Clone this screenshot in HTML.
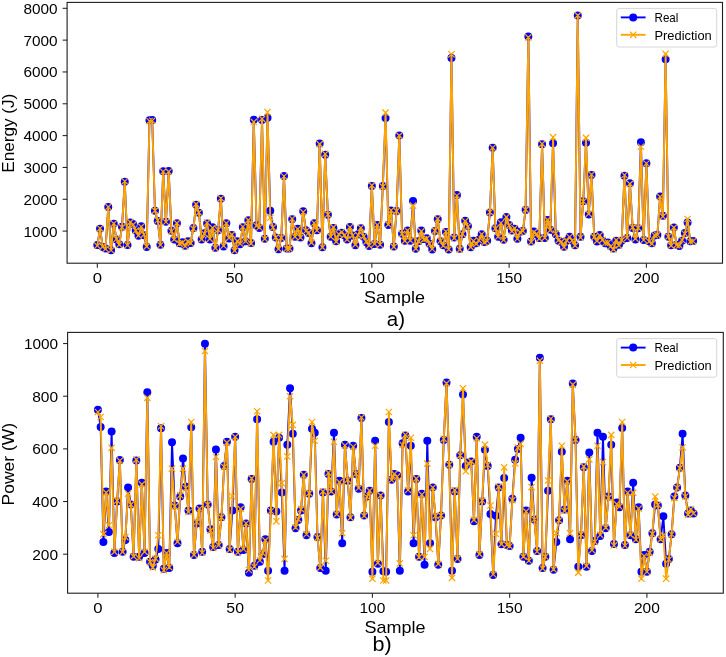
<!DOCTYPE html><html><head><meta charset="utf-8"><style>html,body{margin:0;padding:0;background:#fff;}svg{display:block;filter:blur(0.35px);}</style></head><body>
<svg width="726" height="657" viewBox="0 0 726 657" font-family='"Liberation Sans", sans-serif' fill="#000">
<defs><clipPath id="clip2"><rect x="67.1" y="2.4" width="655.4" height="260.8"/></clipPath><clipPath id="clip332"><rect x="67.6" y="332.4" width="655.7" height="260.8"/></clipPath></defs>
<rect width="726" height="657" fill="#fff"/>
<g clip-path="url(#clip2)">
<polyline points="97.3,245.1 100.05,228.87 102.79,247.01 105.54,248.61 108.28,206.91 111.03,250.2 113.77,223.78 116.52,239.38 119.26,244.15 122.01,226.64 124.75,181.77 127.5,245.1 130.25,222.51 132.99,224.1 135.74,230.46 138.48,235.87 141.23,226.33 143.97,235.24 146.72,247.01 149.46,120.34 152.21,120.02 154.96,210.73 157.7,220.91 160.45,244.79 163.19,171.26 165.94,221.87 168.68,170.94 171.43,230.78 174.17,239.38 176.92,223.14 179.66,243.2 182.41,242.24 185.16,245.74 187.9,241.29 190.65,242.88 193.39,227.92 196.14,204.68 198.88,212.64 201.63,239.38 204.37,233.33 207.12,223.46 209.87,239.38 212.61,227.28 215.36,247.81 218.1,230.15 220.85,198.63 223.59,246.38 226.34,223.14 229.08,238.42 231.83,234.92 234.57,250.36 237.32,241.29 240.07,244.31 242.81,227.28 245.56,241.29 248.3,220.28 251.05,242.88 253.79,119.7 256.54,225.37 259.28,227.92 262.03,120.02 264.78,238.74 267.52,117.79 270.27,210.73 273.01,226.96 275.76,237.47 278.5,249.24 281.25,238.1 283.99,176.04 286.74,248.61 289.49,248.61 292.23,219.16 294.98,236.83 297.72,228.87 300.47,237.47 303.21,211.37 305.96,230.3 308.7,233.01 311.45,243.35 314.19,223.14 316.94,230.3 319.69,143.57 322.43,247.33 325.18,154.71 327.92,214.87 330.67,236.83 333.41,227.92 336.16,241.29 338.9,234.28 341.65,232.69 344.39,235.24 347.14,239.38 349.89,226.96 352.63,235.56 355.38,245.33 358.12,234.28 360.87,228.24 363.61,236.83 366.36,242.24 369.1,245.96 371.85,185.9 374.6,243.99 377.34,225.05 380.09,244.63 382.83,185.9 385.58,118.11 388.32,225.05 391.07,210.41 393.81,246.38 396.56,211.05 399.31,135.61 402.05,233.65 404.8,240.65 407.54,230.59 410.29,240.65 413.03,201.05 415.78,248.8 418.52,241.29 421.27,230.59 424.01,238.93 426.76,238.17 429.51,243.83 432.25,249.56 435,231.1 437.74,219.26 440.49,241.29 443.23,245.33 445.98,232.12 448.72,249.56 451.47,57.95 454.21,237.47 456.96,195.01 459.71,248.8 462.45,234.28 465.2,220.76 467.94,226.07 470.69,247.33 473.43,240.65 476.18,243.2 478.92,239.69 481.67,234.28 484.42,241.92 487.16,240.65 489.91,212.42 492.65,147.71 495.4,228.33 498.14,236.67 500.89,222.28 503.63,239.69 506.38,216.97 509.12,225.05 511.87,230.59 514.62,228.87 517.36,238.74 520.11,231.74 522.85,231.1 525.6,210.09 528.34,36.62 531.09,241.41 533.83,231.58 536.58,234.28 539.33,238.1 542.07,144.21 544.82,238.1 547.56,219.96 550.31,229.67 553.05,143.25 555.8,234.28 558.54,240.65 561.29,241.92 564.03,246.7 566.78,240.65 569.53,236.83 572.27,240.65 575.02,245.33 577.76,15.62 580.51,236.83 583.25,201.18 586,142.77 588.74,214.55 591.49,175.08 594.24,236.83 596.98,241.44 599.73,234.92 602.47,240.65 605.22,243.35 607.96,242.56 610.71,246.06 613.45,248.61 616.2,240.65 618.94,244.79 621.69,240.65 624.44,175.72 627.18,238.1 629.93,183.36 632.67,227.92 635.42,239.38 638.16,228.24 640.91,142.3 643.65,240.01 646.4,163.3 649.15,241.29 651.89,243.35 654.64,235.56 657.38,234.92 660.13,196.41 662.87,215.82 665.62,59.22 668.36,236.83 671.11,245.33 673.85,227.6 676.6,244.79 679.35,245.96 682.09,240.65 684.84,233.01 687.58,222.51 690.33,241.29 693.07,240.97" fill="none" stroke="#0000ff" stroke-width="1.9" stroke-linejoin="round"/>
<path d="M93.3,245.1a4.0,4.0 0 1,0 8.0,0a4.0,4.0 0 1,0 -8.0,0M96.05,228.87a4.0,4.0 0 1,0 8.0,0a4.0,4.0 0 1,0 -8.0,0M98.79,247.01a4.0,4.0 0 1,0 8.0,0a4.0,4.0 0 1,0 -8.0,0M101.54,248.61a4.0,4.0 0 1,0 8.0,0a4.0,4.0 0 1,0 -8.0,0M104.28,206.91a4.0,4.0 0 1,0 8.0,0a4.0,4.0 0 1,0 -8.0,0M107.03,250.2a4.0,4.0 0 1,0 8.0,0a4.0,4.0 0 1,0 -8.0,0M109.77,223.78a4.0,4.0 0 1,0 8.0,0a4.0,4.0 0 1,0 -8.0,0M112.52,239.38a4.0,4.0 0 1,0 8.0,0a4.0,4.0 0 1,0 -8.0,0M115.26,244.15a4.0,4.0 0 1,0 8.0,0a4.0,4.0 0 1,0 -8.0,0M118.01,226.64a4.0,4.0 0 1,0 8.0,0a4.0,4.0 0 1,0 -8.0,0M120.75,181.77a4.0,4.0 0 1,0 8.0,0a4.0,4.0 0 1,0 -8.0,0M123.5,245.1a4.0,4.0 0 1,0 8.0,0a4.0,4.0 0 1,0 -8.0,0M126.25,222.51a4.0,4.0 0 1,0 8.0,0a4.0,4.0 0 1,0 -8.0,0M128.99,224.1a4.0,4.0 0 1,0 8.0,0a4.0,4.0 0 1,0 -8.0,0M131.74,230.46a4.0,4.0 0 1,0 8.0,0a4.0,4.0 0 1,0 -8.0,0M134.48,235.87a4.0,4.0 0 1,0 8.0,0a4.0,4.0 0 1,0 -8.0,0M137.23,226.33a4.0,4.0 0 1,0 8.0,0a4.0,4.0 0 1,0 -8.0,0M139.97,235.24a4.0,4.0 0 1,0 8.0,0a4.0,4.0 0 1,0 -8.0,0M142.72,247.01a4.0,4.0 0 1,0 8.0,0a4.0,4.0 0 1,0 -8.0,0M145.46,120.34a4.0,4.0 0 1,0 8.0,0a4.0,4.0 0 1,0 -8.0,0M148.21,120.02a4.0,4.0 0 1,0 8.0,0a4.0,4.0 0 1,0 -8.0,0M150.96,210.73a4.0,4.0 0 1,0 8.0,0a4.0,4.0 0 1,0 -8.0,0M153.7,220.91a4.0,4.0 0 1,0 8.0,0a4.0,4.0 0 1,0 -8.0,0M156.45,244.79a4.0,4.0 0 1,0 8.0,0a4.0,4.0 0 1,0 -8.0,0M159.19,171.26a4.0,4.0 0 1,0 8.0,0a4.0,4.0 0 1,0 -8.0,0M161.94,221.87a4.0,4.0 0 1,0 8.0,0a4.0,4.0 0 1,0 -8.0,0M164.68,170.94a4.0,4.0 0 1,0 8.0,0a4.0,4.0 0 1,0 -8.0,0M167.43,230.78a4.0,4.0 0 1,0 8.0,0a4.0,4.0 0 1,0 -8.0,0M170.17,239.38a4.0,4.0 0 1,0 8.0,0a4.0,4.0 0 1,0 -8.0,0M172.92,223.14a4.0,4.0 0 1,0 8.0,0a4.0,4.0 0 1,0 -8.0,0M175.66,243.2a4.0,4.0 0 1,0 8.0,0a4.0,4.0 0 1,0 -8.0,0M178.41,242.24a4.0,4.0 0 1,0 8.0,0a4.0,4.0 0 1,0 -8.0,0M181.16,245.74a4.0,4.0 0 1,0 8.0,0a4.0,4.0 0 1,0 -8.0,0M183.9,241.29a4.0,4.0 0 1,0 8.0,0a4.0,4.0 0 1,0 -8.0,0M186.65,242.88a4.0,4.0 0 1,0 8.0,0a4.0,4.0 0 1,0 -8.0,0M189.39,227.92a4.0,4.0 0 1,0 8.0,0a4.0,4.0 0 1,0 -8.0,0M192.14,204.68a4.0,4.0 0 1,0 8.0,0a4.0,4.0 0 1,0 -8.0,0M194.88,212.64a4.0,4.0 0 1,0 8.0,0a4.0,4.0 0 1,0 -8.0,0M197.63,239.38a4.0,4.0 0 1,0 8.0,0a4.0,4.0 0 1,0 -8.0,0M200.37,233.33a4.0,4.0 0 1,0 8.0,0a4.0,4.0 0 1,0 -8.0,0M203.12,223.46a4.0,4.0 0 1,0 8.0,0a4.0,4.0 0 1,0 -8.0,0M205.87,239.38a4.0,4.0 0 1,0 8.0,0a4.0,4.0 0 1,0 -8.0,0M208.61,227.28a4.0,4.0 0 1,0 8.0,0a4.0,4.0 0 1,0 -8.0,0M211.36,247.81a4.0,4.0 0 1,0 8.0,0a4.0,4.0 0 1,0 -8.0,0M214.1,230.15a4.0,4.0 0 1,0 8.0,0a4.0,4.0 0 1,0 -8.0,0M216.85,198.63a4.0,4.0 0 1,0 8.0,0a4.0,4.0 0 1,0 -8.0,0M219.59,246.38a4.0,4.0 0 1,0 8.0,0a4.0,4.0 0 1,0 -8.0,0M222.34,223.14a4.0,4.0 0 1,0 8.0,0a4.0,4.0 0 1,0 -8.0,0M225.08,238.42a4.0,4.0 0 1,0 8.0,0a4.0,4.0 0 1,0 -8.0,0M227.83,234.92a4.0,4.0 0 1,0 8.0,0a4.0,4.0 0 1,0 -8.0,0M230.57,250.36a4.0,4.0 0 1,0 8.0,0a4.0,4.0 0 1,0 -8.0,0M233.32,241.29a4.0,4.0 0 1,0 8.0,0a4.0,4.0 0 1,0 -8.0,0M236.07,244.31a4.0,4.0 0 1,0 8.0,0a4.0,4.0 0 1,0 -8.0,0M238.81,227.28a4.0,4.0 0 1,0 8.0,0a4.0,4.0 0 1,0 -8.0,0M241.56,241.29a4.0,4.0 0 1,0 8.0,0a4.0,4.0 0 1,0 -8.0,0M244.3,220.28a4.0,4.0 0 1,0 8.0,0a4.0,4.0 0 1,0 -8.0,0M247.05,242.88a4.0,4.0 0 1,0 8.0,0a4.0,4.0 0 1,0 -8.0,0M249.79,119.7a4.0,4.0 0 1,0 8.0,0a4.0,4.0 0 1,0 -8.0,0M252.54,225.37a4.0,4.0 0 1,0 8.0,0a4.0,4.0 0 1,0 -8.0,0M255.28,227.92a4.0,4.0 0 1,0 8.0,0a4.0,4.0 0 1,0 -8.0,0M258.03,120.02a4.0,4.0 0 1,0 8.0,0a4.0,4.0 0 1,0 -8.0,0M260.78,238.74a4.0,4.0 0 1,0 8.0,0a4.0,4.0 0 1,0 -8.0,0M263.52,117.79a4.0,4.0 0 1,0 8.0,0a4.0,4.0 0 1,0 -8.0,0M266.27,210.73a4.0,4.0 0 1,0 8.0,0a4.0,4.0 0 1,0 -8.0,0M269.01,226.96a4.0,4.0 0 1,0 8.0,0a4.0,4.0 0 1,0 -8.0,0M271.76,237.47a4.0,4.0 0 1,0 8.0,0a4.0,4.0 0 1,0 -8.0,0M274.5,249.24a4.0,4.0 0 1,0 8.0,0a4.0,4.0 0 1,0 -8.0,0M277.25,238.1a4.0,4.0 0 1,0 8.0,0a4.0,4.0 0 1,0 -8.0,0M279.99,176.04a4.0,4.0 0 1,0 8.0,0a4.0,4.0 0 1,0 -8.0,0M282.74,248.61a4.0,4.0 0 1,0 8.0,0a4.0,4.0 0 1,0 -8.0,0M285.49,248.61a4.0,4.0 0 1,0 8.0,0a4.0,4.0 0 1,0 -8.0,0M288.23,219.16a4.0,4.0 0 1,0 8.0,0a4.0,4.0 0 1,0 -8.0,0M290.98,236.83a4.0,4.0 0 1,0 8.0,0a4.0,4.0 0 1,0 -8.0,0M293.72,228.87a4.0,4.0 0 1,0 8.0,0a4.0,4.0 0 1,0 -8.0,0M296.47,237.47a4.0,4.0 0 1,0 8.0,0a4.0,4.0 0 1,0 -8.0,0M299.21,211.37a4.0,4.0 0 1,0 8.0,0a4.0,4.0 0 1,0 -8.0,0M301.96,230.3a4.0,4.0 0 1,0 8.0,0a4.0,4.0 0 1,0 -8.0,0M304.7,233.01a4.0,4.0 0 1,0 8.0,0a4.0,4.0 0 1,0 -8.0,0M307.45,243.35a4.0,4.0 0 1,0 8.0,0a4.0,4.0 0 1,0 -8.0,0M310.19,223.14a4.0,4.0 0 1,0 8.0,0a4.0,4.0 0 1,0 -8.0,0M312.94,230.3a4.0,4.0 0 1,0 8.0,0a4.0,4.0 0 1,0 -8.0,0M315.69,143.57a4.0,4.0 0 1,0 8.0,0a4.0,4.0 0 1,0 -8.0,0M318.43,247.33a4.0,4.0 0 1,0 8.0,0a4.0,4.0 0 1,0 -8.0,0M321.18,154.71a4.0,4.0 0 1,0 8.0,0a4.0,4.0 0 1,0 -8.0,0M323.92,214.87a4.0,4.0 0 1,0 8.0,0a4.0,4.0 0 1,0 -8.0,0M326.67,236.83a4.0,4.0 0 1,0 8.0,0a4.0,4.0 0 1,0 -8.0,0M329.41,227.92a4.0,4.0 0 1,0 8.0,0a4.0,4.0 0 1,0 -8.0,0M332.16,241.29a4.0,4.0 0 1,0 8.0,0a4.0,4.0 0 1,0 -8.0,0M334.9,234.28a4.0,4.0 0 1,0 8.0,0a4.0,4.0 0 1,0 -8.0,0M337.65,232.69a4.0,4.0 0 1,0 8.0,0a4.0,4.0 0 1,0 -8.0,0M340.39,235.24a4.0,4.0 0 1,0 8.0,0a4.0,4.0 0 1,0 -8.0,0M343.14,239.38a4.0,4.0 0 1,0 8.0,0a4.0,4.0 0 1,0 -8.0,0M345.89,226.96a4.0,4.0 0 1,0 8.0,0a4.0,4.0 0 1,0 -8.0,0M348.63,235.56a4.0,4.0 0 1,0 8.0,0a4.0,4.0 0 1,0 -8.0,0M351.38,245.33a4.0,4.0 0 1,0 8.0,0a4.0,4.0 0 1,0 -8.0,0M354.12,234.28a4.0,4.0 0 1,0 8.0,0a4.0,4.0 0 1,0 -8.0,0M356.87,228.24a4.0,4.0 0 1,0 8.0,0a4.0,4.0 0 1,0 -8.0,0M359.61,236.83a4.0,4.0 0 1,0 8.0,0a4.0,4.0 0 1,0 -8.0,0M362.36,242.24a4.0,4.0 0 1,0 8.0,0a4.0,4.0 0 1,0 -8.0,0M365.1,245.96a4.0,4.0 0 1,0 8.0,0a4.0,4.0 0 1,0 -8.0,0M367.85,185.9a4.0,4.0 0 1,0 8.0,0a4.0,4.0 0 1,0 -8.0,0M370.6,243.99a4.0,4.0 0 1,0 8.0,0a4.0,4.0 0 1,0 -8.0,0M373.34,225.05a4.0,4.0 0 1,0 8.0,0a4.0,4.0 0 1,0 -8.0,0M376.09,244.63a4.0,4.0 0 1,0 8.0,0a4.0,4.0 0 1,0 -8.0,0M378.83,185.9a4.0,4.0 0 1,0 8.0,0a4.0,4.0 0 1,0 -8.0,0M381.58,118.11a4.0,4.0 0 1,0 8.0,0a4.0,4.0 0 1,0 -8.0,0M384.32,225.05a4.0,4.0 0 1,0 8.0,0a4.0,4.0 0 1,0 -8.0,0M387.07,210.41a4.0,4.0 0 1,0 8.0,0a4.0,4.0 0 1,0 -8.0,0M389.81,246.38a4.0,4.0 0 1,0 8.0,0a4.0,4.0 0 1,0 -8.0,0M392.56,211.05a4.0,4.0 0 1,0 8.0,0a4.0,4.0 0 1,0 -8.0,0M395.31,135.61a4.0,4.0 0 1,0 8.0,0a4.0,4.0 0 1,0 -8.0,0M398.05,233.65a4.0,4.0 0 1,0 8.0,0a4.0,4.0 0 1,0 -8.0,0M400.8,240.65a4.0,4.0 0 1,0 8.0,0a4.0,4.0 0 1,0 -8.0,0M403.54,230.59a4.0,4.0 0 1,0 8.0,0a4.0,4.0 0 1,0 -8.0,0M406.29,240.65a4.0,4.0 0 1,0 8.0,0a4.0,4.0 0 1,0 -8.0,0M409.03,201.05a4.0,4.0 0 1,0 8.0,0a4.0,4.0 0 1,0 -8.0,0M411.78,248.8a4.0,4.0 0 1,0 8.0,0a4.0,4.0 0 1,0 -8.0,0M414.52,241.29a4.0,4.0 0 1,0 8.0,0a4.0,4.0 0 1,0 -8.0,0M417.27,230.59a4.0,4.0 0 1,0 8.0,0a4.0,4.0 0 1,0 -8.0,0M420.01,238.93a4.0,4.0 0 1,0 8.0,0a4.0,4.0 0 1,0 -8.0,0M422.76,238.17a4.0,4.0 0 1,0 8.0,0a4.0,4.0 0 1,0 -8.0,0M425.51,243.83a4.0,4.0 0 1,0 8.0,0a4.0,4.0 0 1,0 -8.0,0M428.25,249.56a4.0,4.0 0 1,0 8.0,0a4.0,4.0 0 1,0 -8.0,0M431,231.1a4.0,4.0 0 1,0 8.0,0a4.0,4.0 0 1,0 -8.0,0M433.74,219.26a4.0,4.0 0 1,0 8.0,0a4.0,4.0 0 1,0 -8.0,0M436.49,241.29a4.0,4.0 0 1,0 8.0,0a4.0,4.0 0 1,0 -8.0,0M439.23,245.33a4.0,4.0 0 1,0 8.0,0a4.0,4.0 0 1,0 -8.0,0M441.98,232.12a4.0,4.0 0 1,0 8.0,0a4.0,4.0 0 1,0 -8.0,0M444.72,249.56a4.0,4.0 0 1,0 8.0,0a4.0,4.0 0 1,0 -8.0,0M447.47,57.95a4.0,4.0 0 1,0 8.0,0a4.0,4.0 0 1,0 -8.0,0M450.21,237.47a4.0,4.0 0 1,0 8.0,0a4.0,4.0 0 1,0 -8.0,0M452.96,195.01a4.0,4.0 0 1,0 8.0,0a4.0,4.0 0 1,0 -8.0,0M455.71,248.8a4.0,4.0 0 1,0 8.0,0a4.0,4.0 0 1,0 -8.0,0M458.45,234.28a4.0,4.0 0 1,0 8.0,0a4.0,4.0 0 1,0 -8.0,0M461.2,220.76a4.0,4.0 0 1,0 8.0,0a4.0,4.0 0 1,0 -8.0,0M463.94,226.07a4.0,4.0 0 1,0 8.0,0a4.0,4.0 0 1,0 -8.0,0M466.69,247.33a4.0,4.0 0 1,0 8.0,0a4.0,4.0 0 1,0 -8.0,0M469.43,240.65a4.0,4.0 0 1,0 8.0,0a4.0,4.0 0 1,0 -8.0,0M472.18,243.2a4.0,4.0 0 1,0 8.0,0a4.0,4.0 0 1,0 -8.0,0M474.92,239.69a4.0,4.0 0 1,0 8.0,0a4.0,4.0 0 1,0 -8.0,0M477.67,234.28a4.0,4.0 0 1,0 8.0,0a4.0,4.0 0 1,0 -8.0,0M480.42,241.92a4.0,4.0 0 1,0 8.0,0a4.0,4.0 0 1,0 -8.0,0M483.16,240.65a4.0,4.0 0 1,0 8.0,0a4.0,4.0 0 1,0 -8.0,0M485.91,212.42a4.0,4.0 0 1,0 8.0,0a4.0,4.0 0 1,0 -8.0,0M488.65,147.71a4.0,4.0 0 1,0 8.0,0a4.0,4.0 0 1,0 -8.0,0M491.4,228.33a4.0,4.0 0 1,0 8.0,0a4.0,4.0 0 1,0 -8.0,0M494.14,236.67a4.0,4.0 0 1,0 8.0,0a4.0,4.0 0 1,0 -8.0,0M496.89,222.28a4.0,4.0 0 1,0 8.0,0a4.0,4.0 0 1,0 -8.0,0M499.63,239.69a4.0,4.0 0 1,0 8.0,0a4.0,4.0 0 1,0 -8.0,0M502.38,216.97a4.0,4.0 0 1,0 8.0,0a4.0,4.0 0 1,0 -8.0,0M505.12,225.05a4.0,4.0 0 1,0 8.0,0a4.0,4.0 0 1,0 -8.0,0M507.87,230.59a4.0,4.0 0 1,0 8.0,0a4.0,4.0 0 1,0 -8.0,0M510.62,228.87a4.0,4.0 0 1,0 8.0,0a4.0,4.0 0 1,0 -8.0,0M513.36,238.74a4.0,4.0 0 1,0 8.0,0a4.0,4.0 0 1,0 -8.0,0M516.11,231.74a4.0,4.0 0 1,0 8.0,0a4.0,4.0 0 1,0 -8.0,0M518.85,231.1a4.0,4.0 0 1,0 8.0,0a4.0,4.0 0 1,0 -8.0,0M521.6,210.09a4.0,4.0 0 1,0 8.0,0a4.0,4.0 0 1,0 -8.0,0M524.34,36.62a4.0,4.0 0 1,0 8.0,0a4.0,4.0 0 1,0 -8.0,0M527.09,241.41a4.0,4.0 0 1,0 8.0,0a4.0,4.0 0 1,0 -8.0,0M529.83,231.58a4.0,4.0 0 1,0 8.0,0a4.0,4.0 0 1,0 -8.0,0M532.58,234.28a4.0,4.0 0 1,0 8.0,0a4.0,4.0 0 1,0 -8.0,0M535.33,238.1a4.0,4.0 0 1,0 8.0,0a4.0,4.0 0 1,0 -8.0,0M538.07,144.21a4.0,4.0 0 1,0 8.0,0a4.0,4.0 0 1,0 -8.0,0M540.82,238.1a4.0,4.0 0 1,0 8.0,0a4.0,4.0 0 1,0 -8.0,0M543.56,219.96a4.0,4.0 0 1,0 8.0,0a4.0,4.0 0 1,0 -8.0,0M546.31,229.67a4.0,4.0 0 1,0 8.0,0a4.0,4.0 0 1,0 -8.0,0M549.05,143.25a4.0,4.0 0 1,0 8.0,0a4.0,4.0 0 1,0 -8.0,0M551.8,234.28a4.0,4.0 0 1,0 8.0,0a4.0,4.0 0 1,0 -8.0,0M554.54,240.65a4.0,4.0 0 1,0 8.0,0a4.0,4.0 0 1,0 -8.0,0M557.29,241.92a4.0,4.0 0 1,0 8.0,0a4.0,4.0 0 1,0 -8.0,0M560.03,246.7a4.0,4.0 0 1,0 8.0,0a4.0,4.0 0 1,0 -8.0,0M562.78,240.65a4.0,4.0 0 1,0 8.0,0a4.0,4.0 0 1,0 -8.0,0M565.53,236.83a4.0,4.0 0 1,0 8.0,0a4.0,4.0 0 1,0 -8.0,0M568.27,240.65a4.0,4.0 0 1,0 8.0,0a4.0,4.0 0 1,0 -8.0,0M571.02,245.33a4.0,4.0 0 1,0 8.0,0a4.0,4.0 0 1,0 -8.0,0M573.76,15.62a4.0,4.0 0 1,0 8.0,0a4.0,4.0 0 1,0 -8.0,0M576.51,236.83a4.0,4.0 0 1,0 8.0,0a4.0,4.0 0 1,0 -8.0,0M579.25,201.18a4.0,4.0 0 1,0 8.0,0a4.0,4.0 0 1,0 -8.0,0M582,142.77a4.0,4.0 0 1,0 8.0,0a4.0,4.0 0 1,0 -8.0,0M584.74,214.55a4.0,4.0 0 1,0 8.0,0a4.0,4.0 0 1,0 -8.0,0M587.49,175.08a4.0,4.0 0 1,0 8.0,0a4.0,4.0 0 1,0 -8.0,0M590.24,236.83a4.0,4.0 0 1,0 8.0,0a4.0,4.0 0 1,0 -8.0,0M592.98,241.44a4.0,4.0 0 1,0 8.0,0a4.0,4.0 0 1,0 -8.0,0M595.73,234.92a4.0,4.0 0 1,0 8.0,0a4.0,4.0 0 1,0 -8.0,0M598.47,240.65a4.0,4.0 0 1,0 8.0,0a4.0,4.0 0 1,0 -8.0,0M601.22,243.35a4.0,4.0 0 1,0 8.0,0a4.0,4.0 0 1,0 -8.0,0M603.96,242.56a4.0,4.0 0 1,0 8.0,0a4.0,4.0 0 1,0 -8.0,0M606.71,246.06a4.0,4.0 0 1,0 8.0,0a4.0,4.0 0 1,0 -8.0,0M609.45,248.61a4.0,4.0 0 1,0 8.0,0a4.0,4.0 0 1,0 -8.0,0M612.2,240.65a4.0,4.0 0 1,0 8.0,0a4.0,4.0 0 1,0 -8.0,0M614.94,244.79a4.0,4.0 0 1,0 8.0,0a4.0,4.0 0 1,0 -8.0,0M617.69,240.65a4.0,4.0 0 1,0 8.0,0a4.0,4.0 0 1,0 -8.0,0M620.44,175.72a4.0,4.0 0 1,0 8.0,0a4.0,4.0 0 1,0 -8.0,0M623.18,238.1a4.0,4.0 0 1,0 8.0,0a4.0,4.0 0 1,0 -8.0,0M625.93,183.36a4.0,4.0 0 1,0 8.0,0a4.0,4.0 0 1,0 -8.0,0M628.67,227.92a4.0,4.0 0 1,0 8.0,0a4.0,4.0 0 1,0 -8.0,0M631.42,239.38a4.0,4.0 0 1,0 8.0,0a4.0,4.0 0 1,0 -8.0,0M634.16,228.24a4.0,4.0 0 1,0 8.0,0a4.0,4.0 0 1,0 -8.0,0M636.91,142.3a4.0,4.0 0 1,0 8.0,0a4.0,4.0 0 1,0 -8.0,0M639.65,240.01a4.0,4.0 0 1,0 8.0,0a4.0,4.0 0 1,0 -8.0,0M642.4,163.3a4.0,4.0 0 1,0 8.0,0a4.0,4.0 0 1,0 -8.0,0M645.15,241.29a4.0,4.0 0 1,0 8.0,0a4.0,4.0 0 1,0 -8.0,0M647.89,243.35a4.0,4.0 0 1,0 8.0,0a4.0,4.0 0 1,0 -8.0,0M650.64,235.56a4.0,4.0 0 1,0 8.0,0a4.0,4.0 0 1,0 -8.0,0M653.38,234.92a4.0,4.0 0 1,0 8.0,0a4.0,4.0 0 1,0 -8.0,0M656.13,196.41a4.0,4.0 0 1,0 8.0,0a4.0,4.0 0 1,0 -8.0,0M658.87,215.82a4.0,4.0 0 1,0 8.0,0a4.0,4.0 0 1,0 -8.0,0M661.62,59.22a4.0,4.0 0 1,0 8.0,0a4.0,4.0 0 1,0 -8.0,0M664.36,236.83a4.0,4.0 0 1,0 8.0,0a4.0,4.0 0 1,0 -8.0,0M667.11,245.33a4.0,4.0 0 1,0 8.0,0a4.0,4.0 0 1,0 -8.0,0M669.85,227.6a4.0,4.0 0 1,0 8.0,0a4.0,4.0 0 1,0 -8.0,0M672.6,244.79a4.0,4.0 0 1,0 8.0,0a4.0,4.0 0 1,0 -8.0,0M675.35,245.96a4.0,4.0 0 1,0 8.0,0a4.0,4.0 0 1,0 -8.0,0M678.09,240.65a4.0,4.0 0 1,0 8.0,0a4.0,4.0 0 1,0 -8.0,0M680.84,233.01a4.0,4.0 0 1,0 8.0,0a4.0,4.0 0 1,0 -8.0,0M683.58,222.51a4.0,4.0 0 1,0 8.0,0a4.0,4.0 0 1,0 -8.0,0M686.33,241.29a4.0,4.0 0 1,0 8.0,0a4.0,4.0 0 1,0 -8.0,0M689.07,240.97a4.0,4.0 0 1,0 8.0,0a4.0,4.0 0 1,0 -8.0,0" fill="#0000ff"/>
<polyline points="97.3,245.69 100.05,228.32 102.79,246.59 105.54,249 108.28,206.92 111.03,250.28 113.77,223.54 116.52,238.92 119.26,244.8 122.01,227.39 124.75,181.23 127.5,245.21 130.25,222.09 132.99,224.89 135.74,230.55 138.48,235.52 141.23,226.76 143.97,234.53 146.72,246.38 149.46,121.08 152.21,120.77 154.96,210.66 157.7,220.22 160.45,244.98 163.19,171.71 165.94,221.99 168.68,171.69 171.43,231.22 174.17,239.47 176.92,223.15 179.66,243.62 182.41,242.67 185.16,246.19 187.9,241.35 190.65,243.21 193.39,228.68 196.14,204.14 198.88,212.55 201.63,239.15 204.37,233.83 207.12,222.68 209.87,238.8 212.61,227.88 215.36,248.08 218.1,229.79 220.85,198.3 223.59,245.68 226.34,223.27 229.08,237.9 231.83,234.65 234.57,250.67 237.32,241.15 240.07,243.7 242.81,226.73 245.56,241.28 248.3,220.14 251.05,243.62 253.79,121.93 256.54,225.78 259.28,227.44 262.03,118.9 264.78,238.88 267.52,112.06 270.27,217.73 273.01,227.48 275.76,237.39 278.5,248.92 281.25,237.82 283.99,176.24 286.74,248.7 289.49,248.59 292.23,218.72 294.98,236.8 297.72,229.04 300.47,237.48 303.21,212.11 305.96,231.03 308.7,232.69 311.45,242.59 314.19,222.99 316.94,230.47 319.69,144.09 322.43,247.33 325.18,153.94 327.92,214.44 330.67,236.77 333.41,227.34 336.16,241.71 338.9,234.26 341.65,231.97 344.39,235.11 347.14,239.44 349.89,227.33 352.63,235.48 355.38,244.6 358.12,235.07 360.87,227.78 363.61,236.32 366.36,241.63 369.1,245.58 371.85,185.41 374.6,243.96 377.34,224.95 380.09,244.74 382.83,186.61 385.58,112.7 388.32,224.46 391.07,210.3 393.81,246.86 396.56,211.04 399.31,135.64 402.05,233.87 404.8,240.89 407.54,230.53 410.29,240.45 413.03,205.64 415.78,248.62 418.52,241.35 421.27,231.34 424.01,239.36 426.76,238.68 429.51,243.7 432.25,248.99 435,230.63 437.74,218.79 440.49,240.78 443.23,245.72 445.98,231.57 448.72,249.29 451.47,54.29 454.21,238.13 456.96,195.78 459.71,249.57 462.45,233.88 465.2,221.15 467.94,226.69 470.69,247.13 473.43,240.9 476.18,243.88 478.92,240.24 481.67,234.24 484.42,242.45 487.16,241.01 489.91,212.08 492.65,147.78 495.4,228.61 498.14,236.71 500.89,223.04 503.63,239.87 506.38,217.09 509.12,225.55 511.87,231.21 514.62,228.24 517.36,238.72 520.11,232.2 522.85,230.93 525.6,209.59 528.34,37.39 531.09,242.18 533.83,232.14 536.58,233.93 539.33,238.64 542.07,143.88 544.82,237.82 547.56,219.89 550.31,230.11 553.05,137.2 555.8,233.53 558.54,240.17 561.29,241.9 564.03,247.14 566.78,240.41 569.53,237 572.27,240.53 575.02,245.61 577.76,15.41 580.51,237.53 583.25,201.5 586,137.84 588.74,213.8 591.49,174.48 594.24,237.14 596.98,240.87 599.73,235.22 602.47,239.95 605.22,242.97 607.96,242.69 610.71,246.45 613.45,249.39 616.2,240.05 618.94,245.52 621.69,240.14 624.44,174.98 627.18,237.99 629.93,183.88 632.67,227.33 635.42,238.62 638.16,227.91 640.91,146.75 643.65,240 646.4,163.5 649.15,241.53 651.89,243.82 654.64,235.28 657.38,235.03 660.13,196.89 662.87,216.45 665.62,53.81 668.36,236.57 671.11,245.65 673.85,227.6 676.6,245.06 679.35,245.37 682.09,240.01 684.84,233.78 687.58,219 690.33,241.76 693.07,241.24" fill="none" stroke="#ffa500" stroke-width="1.9" stroke-linejoin="round"/>
<path d="M94.15,242.54l6.3,6.3M94.15,248.84l6.3,-6.3M96.9,225.17l6.3,6.3M96.9,231.47l6.3,-6.3M99.64,243.44l6.3,6.3M99.64,249.74l6.3,-6.3M102.39,245.85l6.3,6.3M102.39,252.15l6.3,-6.3M105.13,203.77l6.3,6.3M105.13,210.07l6.3,-6.3M107.88,247.13l6.3,6.3M107.88,253.43l6.3,-6.3M110.62,220.39l6.3,6.3M110.62,226.69l6.3,-6.3M113.37,235.77l6.3,6.3M113.37,242.07l6.3,-6.3M116.11,241.65l6.3,6.3M116.11,247.95l6.3,-6.3M118.86,224.24l6.3,6.3M118.86,230.54l6.3,-6.3M121.6,178.08l6.3,6.3M121.6,184.38l6.3,-6.3M124.35,242.06l6.3,6.3M124.35,248.36l6.3,-6.3M127.1,218.94l6.3,6.3M127.1,225.24l6.3,-6.3M129.84,221.74l6.3,6.3M129.84,228.04l6.3,-6.3M132.59,227.4l6.3,6.3M132.59,233.7l6.3,-6.3M135.33,232.37l6.3,6.3M135.33,238.67l6.3,-6.3M138.08,223.61l6.3,6.3M138.08,229.91l6.3,-6.3M140.82,231.38l6.3,6.3M140.82,237.68l6.3,-6.3M143.57,243.23l6.3,6.3M143.57,249.53l6.3,-6.3M146.31,117.93l6.3,6.3M146.31,124.23l6.3,-6.3M149.06,117.62l6.3,6.3M149.06,123.92l6.3,-6.3M151.81,207.51l6.3,6.3M151.81,213.81l6.3,-6.3M154.55,217.07l6.3,6.3M154.55,223.37l6.3,-6.3M157.3,241.83l6.3,6.3M157.3,248.13l6.3,-6.3M160.04,168.56l6.3,6.3M160.04,174.86l6.3,-6.3M162.79,218.84l6.3,6.3M162.79,225.14l6.3,-6.3M165.53,168.54l6.3,6.3M165.53,174.84l6.3,-6.3M168.28,228.07l6.3,6.3M168.28,234.37l6.3,-6.3M171.02,236.32l6.3,6.3M171.02,242.62l6.3,-6.3M173.77,220l6.3,6.3M173.77,226.3l6.3,-6.3M176.51,240.47l6.3,6.3M176.51,246.77l6.3,-6.3M179.26,239.52l6.3,6.3M179.26,245.82l6.3,-6.3M182.01,243.04l6.3,6.3M182.01,249.34l6.3,-6.3M184.75,238.2l6.3,6.3M184.75,244.5l6.3,-6.3M187.5,240.06l6.3,6.3M187.5,246.36l6.3,-6.3M190.24,225.53l6.3,6.3M190.24,231.83l6.3,-6.3M192.99,200.99l6.3,6.3M192.99,207.29l6.3,-6.3M195.73,209.4l6.3,6.3M195.73,215.7l6.3,-6.3M198.48,236l6.3,6.3M198.48,242.3l6.3,-6.3M201.22,230.68l6.3,6.3M201.22,236.98l6.3,-6.3M203.97,219.53l6.3,6.3M203.97,225.83l6.3,-6.3M206.72,235.65l6.3,6.3M206.72,241.95l6.3,-6.3M209.46,224.73l6.3,6.3M209.46,231.03l6.3,-6.3M212.21,244.93l6.3,6.3M212.21,251.23l6.3,-6.3M214.95,226.64l6.3,6.3M214.95,232.94l6.3,-6.3M217.7,195.15l6.3,6.3M217.7,201.45l6.3,-6.3M220.44,242.53l6.3,6.3M220.44,248.83l6.3,-6.3M223.19,220.12l6.3,6.3M223.19,226.42l6.3,-6.3M225.93,234.75l6.3,6.3M225.93,241.05l6.3,-6.3M228.68,231.5l6.3,6.3M228.68,237.8l6.3,-6.3M231.42,247.52l6.3,6.3M231.42,253.82l6.3,-6.3M234.17,238l6.3,6.3M234.17,244.3l6.3,-6.3M236.92,240.55l6.3,6.3M236.92,246.85l6.3,-6.3M239.66,223.58l6.3,6.3M239.66,229.88l6.3,-6.3M242.41,238.13l6.3,6.3M242.41,244.43l6.3,-6.3M245.15,216.99l6.3,6.3M245.15,223.29l6.3,-6.3M247.9,240.47l6.3,6.3M247.9,246.77l6.3,-6.3M250.64,118.78l6.3,6.3M250.64,125.08l6.3,-6.3M253.39,222.63l6.3,6.3M253.39,228.93l6.3,-6.3M256.13,224.29l6.3,6.3M256.13,230.59l6.3,-6.3M258.88,115.75l6.3,6.3M258.88,122.05l6.3,-6.3M261.63,235.73l6.3,6.3M261.63,242.03l6.3,-6.3M264.37,108.91l6.3,6.3M264.37,115.21l6.3,-6.3M267.12,214.58l6.3,6.3M267.12,220.88l6.3,-6.3M269.86,224.33l6.3,6.3M269.86,230.63l6.3,-6.3M272.61,234.24l6.3,6.3M272.61,240.54l6.3,-6.3M275.35,245.77l6.3,6.3M275.35,252.07l6.3,-6.3M278.1,234.67l6.3,6.3M278.1,240.97l6.3,-6.3M280.84,173.09l6.3,6.3M280.84,179.39l6.3,-6.3M283.59,245.55l6.3,6.3M283.59,251.85l6.3,-6.3M286.34,245.44l6.3,6.3M286.34,251.74l6.3,-6.3M289.08,215.57l6.3,6.3M289.08,221.87l6.3,-6.3M291.83,233.65l6.3,6.3M291.83,239.95l6.3,-6.3M294.57,225.89l6.3,6.3M294.57,232.19l6.3,-6.3M297.32,234.33l6.3,6.3M297.32,240.63l6.3,-6.3M300.06,208.96l6.3,6.3M300.06,215.26l6.3,-6.3M302.81,227.88l6.3,6.3M302.81,234.18l6.3,-6.3M305.55,229.54l6.3,6.3M305.55,235.84l6.3,-6.3M308.3,239.44l6.3,6.3M308.3,245.74l6.3,-6.3M311.04,219.84l6.3,6.3M311.04,226.14l6.3,-6.3M313.79,227.32l6.3,6.3M313.79,233.62l6.3,-6.3M316.54,140.94l6.3,6.3M316.54,147.24l6.3,-6.3M319.28,244.18l6.3,6.3M319.28,250.48l6.3,-6.3M322.03,150.79l6.3,6.3M322.03,157.09l6.3,-6.3M324.77,211.29l6.3,6.3M324.77,217.59l6.3,-6.3M327.52,233.62l6.3,6.3M327.52,239.92l6.3,-6.3M330.26,224.19l6.3,6.3M330.26,230.49l6.3,-6.3M333.01,238.56l6.3,6.3M333.01,244.86l6.3,-6.3M335.75,231.11l6.3,6.3M335.75,237.41l6.3,-6.3M338.5,228.82l6.3,6.3M338.5,235.12l6.3,-6.3M341.25,231.96l6.3,6.3M341.25,238.26l6.3,-6.3M343.99,236.29l6.3,6.3M343.99,242.59l6.3,-6.3M346.74,224.18l6.3,6.3M346.74,230.48l6.3,-6.3M349.48,232.33l6.3,6.3M349.48,238.63l6.3,-6.3M352.23,241.45l6.3,6.3M352.23,247.75l6.3,-6.3M354.97,231.92l6.3,6.3M354.97,238.22l6.3,-6.3M357.72,224.63l6.3,6.3M357.72,230.93l6.3,-6.3M360.46,233.17l6.3,6.3M360.46,239.47l6.3,-6.3M363.21,238.48l6.3,6.3M363.21,244.78l6.3,-6.3M365.95,242.43l6.3,6.3M365.95,248.73l6.3,-6.3M368.7,182.26l6.3,6.3M368.7,188.56l6.3,-6.3M371.45,240.81l6.3,6.3M371.45,247.11l6.3,-6.3M374.19,221.8l6.3,6.3M374.19,228.1l6.3,-6.3M376.94,241.59l6.3,6.3M376.94,247.89l6.3,-6.3M379.68,183.46l6.3,6.3M379.68,189.76l6.3,-6.3M382.43,109.55l6.3,6.3M382.43,115.85l6.3,-6.3M385.17,221.31l6.3,6.3M385.17,227.61l6.3,-6.3M387.92,207.15l6.3,6.3M387.92,213.45l6.3,-6.3M390.66,243.71l6.3,6.3M390.66,250.01l6.3,-6.3M393.41,207.89l6.3,6.3M393.41,214.19l6.3,-6.3M396.16,132.49l6.3,6.3M396.16,138.79l6.3,-6.3M398.9,230.72l6.3,6.3M398.9,237.02l6.3,-6.3M401.65,237.74l6.3,6.3M401.65,244.04l6.3,-6.3M404.39,227.38l6.3,6.3M404.39,233.68l6.3,-6.3M407.14,237.3l6.3,6.3M407.14,243.6l6.3,-6.3M409.88,202.49l6.3,6.3M409.88,208.79l6.3,-6.3M412.63,245.47l6.3,6.3M412.63,251.77l6.3,-6.3M415.37,238.2l6.3,6.3M415.37,244.5l6.3,-6.3M418.12,228.19l6.3,6.3M418.12,234.49l6.3,-6.3M420.86,236.21l6.3,6.3M420.86,242.51l6.3,-6.3M423.61,235.53l6.3,6.3M423.61,241.83l6.3,-6.3M426.36,240.55l6.3,6.3M426.36,246.85l6.3,-6.3M429.1,245.84l6.3,6.3M429.1,252.14l6.3,-6.3M431.85,227.48l6.3,6.3M431.85,233.78l6.3,-6.3M434.59,215.64l6.3,6.3M434.59,221.94l6.3,-6.3M437.34,237.63l6.3,6.3M437.34,243.93l6.3,-6.3M440.08,242.57l6.3,6.3M440.08,248.87l6.3,-6.3M442.83,228.42l6.3,6.3M442.83,234.72l6.3,-6.3M445.57,246.14l6.3,6.3M445.57,252.44l6.3,-6.3M448.32,51.14l6.3,6.3M448.32,57.44l6.3,-6.3M451.06,234.98l6.3,6.3M451.06,241.28l6.3,-6.3M453.81,192.63l6.3,6.3M453.81,198.93l6.3,-6.3M456.56,246.42l6.3,6.3M456.56,252.72l6.3,-6.3M459.3,230.73l6.3,6.3M459.3,237.03l6.3,-6.3M462.05,218l6.3,6.3M462.05,224.3l6.3,-6.3M464.79,223.54l6.3,6.3M464.79,229.84l6.3,-6.3M467.54,243.98l6.3,6.3M467.54,250.28l6.3,-6.3M470.28,237.75l6.3,6.3M470.28,244.05l6.3,-6.3M473.03,240.73l6.3,6.3M473.03,247.03l6.3,-6.3M475.77,237.09l6.3,6.3M475.77,243.39l6.3,-6.3M478.52,231.09l6.3,6.3M478.52,237.39l6.3,-6.3M481.27,239.3l6.3,6.3M481.27,245.6l6.3,-6.3M484.01,237.86l6.3,6.3M484.01,244.16l6.3,-6.3M486.76,208.93l6.3,6.3M486.76,215.23l6.3,-6.3M489.5,144.63l6.3,6.3M489.5,150.93l6.3,-6.3M492.25,225.46l6.3,6.3M492.25,231.76l6.3,-6.3M494.99,233.56l6.3,6.3M494.99,239.86l6.3,-6.3M497.74,219.89l6.3,6.3M497.74,226.19l6.3,-6.3M500.48,236.72l6.3,6.3M500.48,243.02l6.3,-6.3M503.23,213.94l6.3,6.3M503.23,220.24l6.3,-6.3M505.98,222.4l6.3,6.3M505.98,228.7l6.3,-6.3M508.72,228.06l6.3,6.3M508.72,234.36l6.3,-6.3M511.47,225.09l6.3,6.3M511.47,231.39l6.3,-6.3M514.21,235.57l6.3,6.3M514.21,241.87l6.3,-6.3M516.96,229.05l6.3,6.3M516.96,235.35l6.3,-6.3M519.7,227.78l6.3,6.3M519.7,234.08l6.3,-6.3M522.45,206.44l6.3,6.3M522.45,212.74l6.3,-6.3M525.19,34.24l6.3,6.3M525.19,40.54l6.3,-6.3M527.94,239.03l6.3,6.3M527.94,245.33l6.3,-6.3M530.68,228.99l6.3,6.3M530.68,235.29l6.3,-6.3M533.43,230.78l6.3,6.3M533.43,237.08l6.3,-6.3M536.18,235.49l6.3,6.3M536.18,241.79l6.3,-6.3M538.92,140.73l6.3,6.3M538.92,147.03l6.3,-6.3M541.67,234.67l6.3,6.3M541.67,240.97l6.3,-6.3M544.41,216.74l6.3,6.3M544.41,223.04l6.3,-6.3M547.16,226.96l6.3,6.3M547.16,233.26l6.3,-6.3M549.9,134.05l6.3,6.3M549.9,140.35l6.3,-6.3M552.65,230.38l6.3,6.3M552.65,236.68l6.3,-6.3M555.39,237.02l6.3,6.3M555.39,243.32l6.3,-6.3M558.14,238.75l6.3,6.3M558.14,245.05l6.3,-6.3M560.88,243.99l6.3,6.3M560.88,250.29l6.3,-6.3M563.63,237.26l6.3,6.3M563.63,243.56l6.3,-6.3M566.38,233.85l6.3,6.3M566.38,240.15l6.3,-6.3M569.12,237.38l6.3,6.3M569.12,243.68l6.3,-6.3M571.87,242.46l6.3,6.3M571.87,248.76l6.3,-6.3M574.61,12.26l6.3,6.3M574.61,18.56l6.3,-6.3M577.36,234.38l6.3,6.3M577.36,240.68l6.3,-6.3M580.1,198.35l6.3,6.3M580.1,204.65l6.3,-6.3M582.85,134.69l6.3,6.3M582.85,140.99l6.3,-6.3M585.59,210.65l6.3,6.3M585.59,216.95l6.3,-6.3M588.34,171.33l6.3,6.3M588.34,177.63l6.3,-6.3M591.09,233.99l6.3,6.3M591.09,240.29l6.3,-6.3M593.83,237.72l6.3,6.3M593.83,244.02l6.3,-6.3M596.58,232.07l6.3,6.3M596.58,238.37l6.3,-6.3M599.32,236.8l6.3,6.3M599.32,243.1l6.3,-6.3M602.07,239.82l6.3,6.3M602.07,246.12l6.3,-6.3M604.81,239.54l6.3,6.3M604.81,245.84l6.3,-6.3M607.56,243.3l6.3,6.3M607.56,249.6l6.3,-6.3M610.3,246.24l6.3,6.3M610.3,252.54l6.3,-6.3M613.05,236.9l6.3,6.3M613.05,243.2l6.3,-6.3M615.79,242.37l6.3,6.3M615.79,248.67l6.3,-6.3M618.54,236.99l6.3,6.3M618.54,243.29l6.3,-6.3M621.29,171.83l6.3,6.3M621.29,178.13l6.3,-6.3M624.03,234.84l6.3,6.3M624.03,241.14l6.3,-6.3M626.78,180.73l6.3,6.3M626.78,187.03l6.3,-6.3M629.52,224.18l6.3,6.3M629.52,230.48l6.3,-6.3M632.27,235.47l6.3,6.3M632.27,241.77l6.3,-6.3M635.01,224.76l6.3,6.3M635.01,231.06l6.3,-6.3M637.76,143.6l6.3,6.3M637.76,149.9l6.3,-6.3M640.5,236.85l6.3,6.3M640.5,243.15l6.3,-6.3M643.25,160.35l6.3,6.3M643.25,166.65l6.3,-6.3M646,238.38l6.3,6.3M646,244.68l6.3,-6.3M648.74,240.67l6.3,6.3M648.74,246.97l6.3,-6.3M651.49,232.13l6.3,6.3M651.49,238.43l6.3,-6.3M654.23,231.88l6.3,6.3M654.23,238.18l6.3,-6.3M656.98,193.74l6.3,6.3M656.98,200.04l6.3,-6.3M659.72,213.3l6.3,6.3M659.72,219.6l6.3,-6.3M662.47,50.66l6.3,6.3M662.47,56.96l6.3,-6.3M665.21,233.42l6.3,6.3M665.21,239.72l6.3,-6.3M667.96,242.5l6.3,6.3M667.96,248.8l6.3,-6.3M670.7,224.45l6.3,6.3M670.7,230.75l6.3,-6.3M673.45,241.91l6.3,6.3M673.45,248.21l6.3,-6.3M676.2,242.22l6.3,6.3M676.2,248.52l6.3,-6.3M678.94,236.86l6.3,6.3M678.94,243.16l6.3,-6.3M681.69,230.63l6.3,6.3M681.69,236.93l6.3,-6.3M684.43,215.85l6.3,6.3M684.43,222.15l6.3,-6.3M687.18,238.61l6.3,6.3M687.18,244.91l6.3,-6.3M689.92,238.09l6.3,6.3M689.92,244.39l6.3,-6.3" fill="none" stroke="#ffa500" stroke-width="1.25"/>
</g>
<rect x="67.1" y="2.4" width="655.4" height="260.8" fill="none" stroke="#1e1e1e" stroke-width="1.1"/>
<line x1="97.3" y1="263.2" x2="97.3" y2="267.7" stroke="#1e1e1e" stroke-width="1.05"/>
<text x="97.3" y="282.9" text-anchor="middle" font-size="15.3" textLength="9.3" lengthAdjust="spacingAndGlyphs">0</text>
<line x1="234.57" y1="263.2" x2="234.57" y2="267.7" stroke="#1e1e1e" stroke-width="1.05"/>
<text x="234.57" y="282.9" text-anchor="middle" font-size="15.3" textLength="17.6" lengthAdjust="spacingAndGlyphs">50</text>
<line x1="371.85" y1="263.2" x2="371.85" y2="267.7" stroke="#1e1e1e" stroke-width="1.05"/>
<text x="371.85" y="282.9" text-anchor="middle" font-size="15.3" textLength="25.9" lengthAdjust="spacingAndGlyphs">100</text>
<line x1="509.12" y1="263.2" x2="509.12" y2="267.7" stroke="#1e1e1e" stroke-width="1.05"/>
<text x="509.12" y="282.9" text-anchor="middle" font-size="15.3" textLength="25.9" lengthAdjust="spacingAndGlyphs">150</text>
<line x1="646.4" y1="263.2" x2="646.4" y2="267.7" stroke="#1e1e1e" stroke-width="1.05"/>
<text x="646.4" y="282.9" text-anchor="middle" font-size="15.3" textLength="25.9" lengthAdjust="spacingAndGlyphs">200</text>
<line x1="62.6" y1="231.1" x2="67.1" y2="231.1" stroke="#1e1e1e" stroke-width="1.05"/>
<text x="57.6" y="236.5" text-anchor="end" font-size="15.3" textLength="34.2" lengthAdjust="spacingAndGlyphs">1000</text>
<line x1="62.6" y1="199.27" x2="67.1" y2="199.27" stroke="#1e1e1e" stroke-width="1.05"/>
<text x="57.6" y="204.67" text-anchor="end" font-size="15.3" textLength="34.2" lengthAdjust="spacingAndGlyphs">2000</text>
<line x1="62.6" y1="167.44" x2="67.1" y2="167.44" stroke="#1e1e1e" stroke-width="1.05"/>
<text x="57.6" y="172.84" text-anchor="end" font-size="15.3" textLength="34.2" lengthAdjust="spacingAndGlyphs">3000</text>
<line x1="62.6" y1="135.61" x2="67.1" y2="135.61" stroke="#1e1e1e" stroke-width="1.05"/>
<text x="57.6" y="141.01" text-anchor="end" font-size="15.3" textLength="34.2" lengthAdjust="spacingAndGlyphs">4000</text>
<line x1="62.6" y1="103.78" x2="67.1" y2="103.78" stroke="#1e1e1e" stroke-width="1.05"/>
<text x="57.6" y="109.18" text-anchor="end" font-size="15.3" textLength="34.2" lengthAdjust="spacingAndGlyphs">5000</text>
<line x1="62.6" y1="71.95" x2="67.1" y2="71.95" stroke="#1e1e1e" stroke-width="1.05"/>
<text x="57.6" y="77.35" text-anchor="end" font-size="15.3" textLength="34.2" lengthAdjust="spacingAndGlyphs">6000</text>
<line x1="62.6" y1="40.13" x2="67.1" y2="40.13" stroke="#1e1e1e" stroke-width="1.05"/>
<text x="57.6" y="45.53" text-anchor="end" font-size="15.3" textLength="34.2" lengthAdjust="spacingAndGlyphs">7000</text>
<line x1="62.6" y1="8.3" x2="67.1" y2="8.3" stroke="#1e1e1e" stroke-width="1.05"/>
<text x="57.6" y="13.7" text-anchor="end" font-size="15.3" textLength="34.2" lengthAdjust="spacingAndGlyphs">8000</text>
<text x="394.6" y="302.9" text-anchor="middle" font-size="16.4" textLength="61" lengthAdjust="spacingAndGlyphs">Sample</text>
<text transform="translate(13.9,133.2) rotate(-90)" text-anchor="middle" font-size="16.4" textLength="79.0" lengthAdjust="spacingAndGlyphs">Energy (J)</text>
<text x="386.8" y="326.1" font-size="20.5">a)</text>
<rect x="616.7" y="8.4" width="100.0" height="38.6" rx="2.5" fill="#fff" fill-opacity="0.8" stroke="#d6d6d6" stroke-width="1"/>
<line x1="620.8" y1="17.4" x2="645.6" y2="17.4" stroke="#0000ff" stroke-width="1.9"/>
<circle cx="633.2" cy="17.4" r="4.0" fill="#0000ff"/>
<line x1="620.8" y1="34.8" x2="645.6" y2="34.8" stroke="#ffa500" stroke-width="1.9"/>
<path d="M630.0500000000001,31.65l6.3,6.3M630.0500000000001,37.95l6.3,-6.3" stroke="#ffa500" stroke-width="1.25"/>
<text x="654.5" y="22.25" font-size="13.2" textLength="23.9" lengthAdjust="spacingAndGlyphs">Real</text>
<text x="654.5" y="39.65" font-size="13.2" textLength="57.2" lengthAdjust="spacingAndGlyphs">Prediction</text>
<g clip-path="url(#clip332)">
<polyline points="97.9,409.65 100.65,427.03 103.39,542.09 106.14,491.53 108.88,532.08 111.62,431.5 114.37,552.88 117.12,501.54 119.86,459.94 122.61,551.83 125.35,539.98 128.09,487.59 130.84,504.44 133.59,556.83 136.33,460.47 139.08,556.83 141.82,482.85 144.56,552.88 147.31,392.27 150.06,561.84 152.8,565.79 155.55,559.47 158.29,548.93 161.04,428.34 163.78,568.68 166.53,552.88 169.27,567.89 172.02,442.3 174.76,505.49 177.5,543.14 180.25,496.54 183,458.62 185.74,486.8 188.49,510.49 191.23,427.29 193.98,554.99 196.72,523.39 199.47,508.39 202.21,551.83 204.96,343.82 207.7,504.44 210.44,529.19 213.19,547.09 215.94,449.41 218.68,544.98 221.43,517.34 224.17,465.99 226.92,441.77 229.66,548.93 232.41,510.49 235.15,436.77 237.9,551.83 240.64,507.33 243.39,549.99 246.13,523.39 248.88,572.63 251.62,478.9 254.37,565.79 257.11,419.13 259.86,561.84 262.6,554.2 265.35,539.19 268.09,570.79 270.84,510.49 273.58,441.77 276.33,511.55 279.07,437.82 281.82,492.59 284.56,570.79 287.31,444.67 290.05,388.32 292.8,433.87 295.54,528.13 298.29,519.97 301.03,510.49 303.77,474.68 306.52,535.24 309.26,493.64 312.01,428.87 314.75,432.82 317.5,537.09 320.25,567.89 322.99,492.59 325.74,570.79 328.48,473.89 331.23,491.53 333.97,432.82 336.72,514.44 339.46,480.74 342.21,543.14 344.95,444.67 347.7,480.74 350.44,517.34 353.19,445.72 355.93,473.89 358.68,488.64 361.42,418.07 364.16,515.49 366.91,496.54 369.65,490.74 372.4,571.84 375.14,440.72 377.89,563.68 380.63,495.48 383.38,571.31 386.12,571.84 388.87,422.02 391.62,479.69 394.36,473.89 397.11,475.21 399.85,570.79 402.6,443.35 405.34,435.45 408.09,491.53 410.83,445.72 413.58,543.14 416.32,478.9 419.07,556.83 421.81,493.64 424.56,564.73 427.3,440.72 430.05,543.14 432.79,487.59 435.53,517.34 438.28,564.73 441.02,515.49 443.77,439.93 446.51,382.53 449.26,464.68 452,570.79 454.75,491.53 457.5,558.94 460.24,455.2 462.99,394.38 465.73,465.99 468.48,462.57 471.22,461.52 473.97,521.29 476.71,436.77 479.46,554.99 482.2,501.54 484.95,449.67 487.69,465.99 490.44,513.92 493.18,575 495.93,515.76 498.67,487.59 501.42,544.19 504.16,478.11 506.9,544.98 509.65,546.04 512.39,498.64 515.14,459.68 517.88,448.88 520.63,437.82 523.38,556.83 526.12,510.49 528.87,560.78 531.61,477.84 534.36,519.44 537.1,551.04 539.85,357.78 542.59,567.89 545.34,556.83 548.08,490.74 550.83,419.13 553.57,569.73 556.32,542.09 559.06,520.23 561.81,451.78 564.55,509.44 567.3,480.74 570.04,539.19 572.78,383.58 575.53,439.93 578.27,566.84 581.02,535.24 583.76,467.31 586.51,566.84 589.25,452.57 592,551.04 594.75,541.04 597.49,432.82 600.24,536.03 602.98,436.77 605.73,528.13 608.47,496.54 611.22,444.67 613.96,543.93 616.71,502.59 619.45,507.33 622.2,428.08 624.94,544.98 627.68,491.53 630.43,535.24 633.17,482.85 635.92,539.19 638.66,507.33 641.41,571.84 644.15,554.99 646.9,571.84 649.64,551.83 652.39,533.14 655.13,504.44 657.88,505.49 660.62,539.19 663.37,516.28 666.12,563.68 668.86,558.94 671.61,534.19 674.35,496.54 677.1,487.59 679.84,467.84 682.59,433.87 685.33,495.48 688.08,513.39 690.82,510.49 693.57,513.39" fill="none" stroke="#0000ff" stroke-width="1.9" stroke-linejoin="round"/>
<path d="M93.9,409.65a4.0,4.0 0 1,0 8.0,0a4.0,4.0 0 1,0 -8.0,0M96.65,427.03a4.0,4.0 0 1,0 8.0,0a4.0,4.0 0 1,0 -8.0,0M99.39,542.09a4.0,4.0 0 1,0 8.0,0a4.0,4.0 0 1,0 -8.0,0M102.14,491.53a4.0,4.0 0 1,0 8.0,0a4.0,4.0 0 1,0 -8.0,0M104.88,532.08a4.0,4.0 0 1,0 8.0,0a4.0,4.0 0 1,0 -8.0,0M107.62,431.5a4.0,4.0 0 1,0 8.0,0a4.0,4.0 0 1,0 -8.0,0M110.37,552.88a4.0,4.0 0 1,0 8.0,0a4.0,4.0 0 1,0 -8.0,0M113.12,501.54a4.0,4.0 0 1,0 8.0,0a4.0,4.0 0 1,0 -8.0,0M115.86,459.94a4.0,4.0 0 1,0 8.0,0a4.0,4.0 0 1,0 -8.0,0M118.61,551.83a4.0,4.0 0 1,0 8.0,0a4.0,4.0 0 1,0 -8.0,0M121.35,539.98a4.0,4.0 0 1,0 8.0,0a4.0,4.0 0 1,0 -8.0,0M124.09,487.59a4.0,4.0 0 1,0 8.0,0a4.0,4.0 0 1,0 -8.0,0M126.84,504.44a4.0,4.0 0 1,0 8.0,0a4.0,4.0 0 1,0 -8.0,0M129.59,556.83a4.0,4.0 0 1,0 8.0,0a4.0,4.0 0 1,0 -8.0,0M132.33,460.47a4.0,4.0 0 1,0 8.0,0a4.0,4.0 0 1,0 -8.0,0M135.08,556.83a4.0,4.0 0 1,0 8.0,0a4.0,4.0 0 1,0 -8.0,0M137.82,482.85a4.0,4.0 0 1,0 8.0,0a4.0,4.0 0 1,0 -8.0,0M140.56,552.88a4.0,4.0 0 1,0 8.0,0a4.0,4.0 0 1,0 -8.0,0M143.31,392.27a4.0,4.0 0 1,0 8.0,0a4.0,4.0 0 1,0 -8.0,0M146.06,561.84a4.0,4.0 0 1,0 8.0,0a4.0,4.0 0 1,0 -8.0,0M148.8,565.79a4.0,4.0 0 1,0 8.0,0a4.0,4.0 0 1,0 -8.0,0M151.55,559.47a4.0,4.0 0 1,0 8.0,0a4.0,4.0 0 1,0 -8.0,0M154.29,548.93a4.0,4.0 0 1,0 8.0,0a4.0,4.0 0 1,0 -8.0,0M157.04,428.34a4.0,4.0 0 1,0 8.0,0a4.0,4.0 0 1,0 -8.0,0M159.78,568.68a4.0,4.0 0 1,0 8.0,0a4.0,4.0 0 1,0 -8.0,0M162.53,552.88a4.0,4.0 0 1,0 8.0,0a4.0,4.0 0 1,0 -8.0,0M165.27,567.89a4.0,4.0 0 1,0 8.0,0a4.0,4.0 0 1,0 -8.0,0M168.02,442.3a4.0,4.0 0 1,0 8.0,0a4.0,4.0 0 1,0 -8.0,0M170.76,505.49a4.0,4.0 0 1,0 8.0,0a4.0,4.0 0 1,0 -8.0,0M173.5,543.14a4.0,4.0 0 1,0 8.0,0a4.0,4.0 0 1,0 -8.0,0M176.25,496.54a4.0,4.0 0 1,0 8.0,0a4.0,4.0 0 1,0 -8.0,0M179,458.62a4.0,4.0 0 1,0 8.0,0a4.0,4.0 0 1,0 -8.0,0M181.74,486.8a4.0,4.0 0 1,0 8.0,0a4.0,4.0 0 1,0 -8.0,0M184.49,510.49a4.0,4.0 0 1,0 8.0,0a4.0,4.0 0 1,0 -8.0,0M187.23,427.29a4.0,4.0 0 1,0 8.0,0a4.0,4.0 0 1,0 -8.0,0M189.98,554.99a4.0,4.0 0 1,0 8.0,0a4.0,4.0 0 1,0 -8.0,0M192.72,523.39a4.0,4.0 0 1,0 8.0,0a4.0,4.0 0 1,0 -8.0,0M195.47,508.39a4.0,4.0 0 1,0 8.0,0a4.0,4.0 0 1,0 -8.0,0M198.21,551.83a4.0,4.0 0 1,0 8.0,0a4.0,4.0 0 1,0 -8.0,0M200.96,343.82a4.0,4.0 0 1,0 8.0,0a4.0,4.0 0 1,0 -8.0,0M203.7,504.44a4.0,4.0 0 1,0 8.0,0a4.0,4.0 0 1,0 -8.0,0M206.44,529.19a4.0,4.0 0 1,0 8.0,0a4.0,4.0 0 1,0 -8.0,0M209.19,547.09a4.0,4.0 0 1,0 8.0,0a4.0,4.0 0 1,0 -8.0,0M211.94,449.41a4.0,4.0 0 1,0 8.0,0a4.0,4.0 0 1,0 -8.0,0M214.68,544.98a4.0,4.0 0 1,0 8.0,0a4.0,4.0 0 1,0 -8.0,0M217.43,517.34a4.0,4.0 0 1,0 8.0,0a4.0,4.0 0 1,0 -8.0,0M220.17,465.99a4.0,4.0 0 1,0 8.0,0a4.0,4.0 0 1,0 -8.0,0M222.92,441.77a4.0,4.0 0 1,0 8.0,0a4.0,4.0 0 1,0 -8.0,0M225.66,548.93a4.0,4.0 0 1,0 8.0,0a4.0,4.0 0 1,0 -8.0,0M228.41,510.49a4.0,4.0 0 1,0 8.0,0a4.0,4.0 0 1,0 -8.0,0M231.15,436.77a4.0,4.0 0 1,0 8.0,0a4.0,4.0 0 1,0 -8.0,0M233.9,551.83a4.0,4.0 0 1,0 8.0,0a4.0,4.0 0 1,0 -8.0,0M236.64,507.33a4.0,4.0 0 1,0 8.0,0a4.0,4.0 0 1,0 -8.0,0M239.39,549.99a4.0,4.0 0 1,0 8.0,0a4.0,4.0 0 1,0 -8.0,0M242.13,523.39a4.0,4.0 0 1,0 8.0,0a4.0,4.0 0 1,0 -8.0,0M244.88,572.63a4.0,4.0 0 1,0 8.0,0a4.0,4.0 0 1,0 -8.0,0M247.62,478.9a4.0,4.0 0 1,0 8.0,0a4.0,4.0 0 1,0 -8.0,0M250.37,565.79a4.0,4.0 0 1,0 8.0,0a4.0,4.0 0 1,0 -8.0,0M253.11,419.13a4.0,4.0 0 1,0 8.0,0a4.0,4.0 0 1,0 -8.0,0M255.86,561.84a4.0,4.0 0 1,0 8.0,0a4.0,4.0 0 1,0 -8.0,0M258.6,554.2a4.0,4.0 0 1,0 8.0,0a4.0,4.0 0 1,0 -8.0,0M261.35,539.19a4.0,4.0 0 1,0 8.0,0a4.0,4.0 0 1,0 -8.0,0M264.09,570.79a4.0,4.0 0 1,0 8.0,0a4.0,4.0 0 1,0 -8.0,0M266.84,510.49a4.0,4.0 0 1,0 8.0,0a4.0,4.0 0 1,0 -8.0,0M269.58,441.77a4.0,4.0 0 1,0 8.0,0a4.0,4.0 0 1,0 -8.0,0M272.33,511.55a4.0,4.0 0 1,0 8.0,0a4.0,4.0 0 1,0 -8.0,0M275.07,437.82a4.0,4.0 0 1,0 8.0,0a4.0,4.0 0 1,0 -8.0,0M277.82,492.59a4.0,4.0 0 1,0 8.0,0a4.0,4.0 0 1,0 -8.0,0M280.56,570.79a4.0,4.0 0 1,0 8.0,0a4.0,4.0 0 1,0 -8.0,0M283.31,444.67a4.0,4.0 0 1,0 8.0,0a4.0,4.0 0 1,0 -8.0,0M286.05,388.32a4.0,4.0 0 1,0 8.0,0a4.0,4.0 0 1,0 -8.0,0M288.8,433.87a4.0,4.0 0 1,0 8.0,0a4.0,4.0 0 1,0 -8.0,0M291.54,528.13a4.0,4.0 0 1,0 8.0,0a4.0,4.0 0 1,0 -8.0,0M294.29,519.97a4.0,4.0 0 1,0 8.0,0a4.0,4.0 0 1,0 -8.0,0M297.03,510.49a4.0,4.0 0 1,0 8.0,0a4.0,4.0 0 1,0 -8.0,0M299.77,474.68a4.0,4.0 0 1,0 8.0,0a4.0,4.0 0 1,0 -8.0,0M302.52,535.24a4.0,4.0 0 1,0 8.0,0a4.0,4.0 0 1,0 -8.0,0M305.26,493.64a4.0,4.0 0 1,0 8.0,0a4.0,4.0 0 1,0 -8.0,0M308.01,428.87a4.0,4.0 0 1,0 8.0,0a4.0,4.0 0 1,0 -8.0,0M310.75,432.82a4.0,4.0 0 1,0 8.0,0a4.0,4.0 0 1,0 -8.0,0M313.5,537.09a4.0,4.0 0 1,0 8.0,0a4.0,4.0 0 1,0 -8.0,0M316.25,567.89a4.0,4.0 0 1,0 8.0,0a4.0,4.0 0 1,0 -8.0,0M318.99,492.59a4.0,4.0 0 1,0 8.0,0a4.0,4.0 0 1,0 -8.0,0M321.74,570.79a4.0,4.0 0 1,0 8.0,0a4.0,4.0 0 1,0 -8.0,0M324.48,473.89a4.0,4.0 0 1,0 8.0,0a4.0,4.0 0 1,0 -8.0,0M327.23,491.53a4.0,4.0 0 1,0 8.0,0a4.0,4.0 0 1,0 -8.0,0M329.97,432.82a4.0,4.0 0 1,0 8.0,0a4.0,4.0 0 1,0 -8.0,0M332.72,514.44a4.0,4.0 0 1,0 8.0,0a4.0,4.0 0 1,0 -8.0,0M335.46,480.74a4.0,4.0 0 1,0 8.0,0a4.0,4.0 0 1,0 -8.0,0M338.21,543.14a4.0,4.0 0 1,0 8.0,0a4.0,4.0 0 1,0 -8.0,0M340.95,444.67a4.0,4.0 0 1,0 8.0,0a4.0,4.0 0 1,0 -8.0,0M343.7,480.74a4.0,4.0 0 1,0 8.0,0a4.0,4.0 0 1,0 -8.0,0M346.44,517.34a4.0,4.0 0 1,0 8.0,0a4.0,4.0 0 1,0 -8.0,0M349.19,445.72a4.0,4.0 0 1,0 8.0,0a4.0,4.0 0 1,0 -8.0,0M351.93,473.89a4.0,4.0 0 1,0 8.0,0a4.0,4.0 0 1,0 -8.0,0M354.68,488.64a4.0,4.0 0 1,0 8.0,0a4.0,4.0 0 1,0 -8.0,0M357.42,418.07a4.0,4.0 0 1,0 8.0,0a4.0,4.0 0 1,0 -8.0,0M360.16,515.49a4.0,4.0 0 1,0 8.0,0a4.0,4.0 0 1,0 -8.0,0M362.91,496.54a4.0,4.0 0 1,0 8.0,0a4.0,4.0 0 1,0 -8.0,0M365.65,490.74a4.0,4.0 0 1,0 8.0,0a4.0,4.0 0 1,0 -8.0,0M368.4,571.84a4.0,4.0 0 1,0 8.0,0a4.0,4.0 0 1,0 -8.0,0M371.14,440.72a4.0,4.0 0 1,0 8.0,0a4.0,4.0 0 1,0 -8.0,0M373.89,563.68a4.0,4.0 0 1,0 8.0,0a4.0,4.0 0 1,0 -8.0,0M376.63,495.48a4.0,4.0 0 1,0 8.0,0a4.0,4.0 0 1,0 -8.0,0M379.38,571.31a4.0,4.0 0 1,0 8.0,0a4.0,4.0 0 1,0 -8.0,0M382.12,571.84a4.0,4.0 0 1,0 8.0,0a4.0,4.0 0 1,0 -8.0,0M384.87,422.02a4.0,4.0 0 1,0 8.0,0a4.0,4.0 0 1,0 -8.0,0M387.62,479.69a4.0,4.0 0 1,0 8.0,0a4.0,4.0 0 1,0 -8.0,0M390.36,473.89a4.0,4.0 0 1,0 8.0,0a4.0,4.0 0 1,0 -8.0,0M393.11,475.21a4.0,4.0 0 1,0 8.0,0a4.0,4.0 0 1,0 -8.0,0M395.85,570.79a4.0,4.0 0 1,0 8.0,0a4.0,4.0 0 1,0 -8.0,0M398.6,443.35a4.0,4.0 0 1,0 8.0,0a4.0,4.0 0 1,0 -8.0,0M401.34,435.45a4.0,4.0 0 1,0 8.0,0a4.0,4.0 0 1,0 -8.0,0M404.09,491.53a4.0,4.0 0 1,0 8.0,0a4.0,4.0 0 1,0 -8.0,0M406.83,445.72a4.0,4.0 0 1,0 8.0,0a4.0,4.0 0 1,0 -8.0,0M409.58,543.14a4.0,4.0 0 1,0 8.0,0a4.0,4.0 0 1,0 -8.0,0M412.32,478.9a4.0,4.0 0 1,0 8.0,0a4.0,4.0 0 1,0 -8.0,0M415.07,556.83a4.0,4.0 0 1,0 8.0,0a4.0,4.0 0 1,0 -8.0,0M417.81,493.64a4.0,4.0 0 1,0 8.0,0a4.0,4.0 0 1,0 -8.0,0M420.56,564.73a4.0,4.0 0 1,0 8.0,0a4.0,4.0 0 1,0 -8.0,0M423.3,440.72a4.0,4.0 0 1,0 8.0,0a4.0,4.0 0 1,0 -8.0,0M426.05,543.14a4.0,4.0 0 1,0 8.0,0a4.0,4.0 0 1,0 -8.0,0M428.79,487.59a4.0,4.0 0 1,0 8.0,0a4.0,4.0 0 1,0 -8.0,0M431.53,517.34a4.0,4.0 0 1,0 8.0,0a4.0,4.0 0 1,0 -8.0,0M434.28,564.73a4.0,4.0 0 1,0 8.0,0a4.0,4.0 0 1,0 -8.0,0M437.02,515.49a4.0,4.0 0 1,0 8.0,0a4.0,4.0 0 1,0 -8.0,0M439.77,439.93a4.0,4.0 0 1,0 8.0,0a4.0,4.0 0 1,0 -8.0,0M442.51,382.53a4.0,4.0 0 1,0 8.0,0a4.0,4.0 0 1,0 -8.0,0M445.26,464.68a4.0,4.0 0 1,0 8.0,0a4.0,4.0 0 1,0 -8.0,0M448,570.79a4.0,4.0 0 1,0 8.0,0a4.0,4.0 0 1,0 -8.0,0M450.75,491.53a4.0,4.0 0 1,0 8.0,0a4.0,4.0 0 1,0 -8.0,0M453.5,558.94a4.0,4.0 0 1,0 8.0,0a4.0,4.0 0 1,0 -8.0,0M456.24,455.2a4.0,4.0 0 1,0 8.0,0a4.0,4.0 0 1,0 -8.0,0M458.99,394.38a4.0,4.0 0 1,0 8.0,0a4.0,4.0 0 1,0 -8.0,0M461.73,465.99a4.0,4.0 0 1,0 8.0,0a4.0,4.0 0 1,0 -8.0,0M464.48,462.57a4.0,4.0 0 1,0 8.0,0a4.0,4.0 0 1,0 -8.0,0M467.22,461.52a4.0,4.0 0 1,0 8.0,0a4.0,4.0 0 1,0 -8.0,0M469.97,521.29a4.0,4.0 0 1,0 8.0,0a4.0,4.0 0 1,0 -8.0,0M472.71,436.77a4.0,4.0 0 1,0 8.0,0a4.0,4.0 0 1,0 -8.0,0M475.46,554.99a4.0,4.0 0 1,0 8.0,0a4.0,4.0 0 1,0 -8.0,0M478.2,501.54a4.0,4.0 0 1,0 8.0,0a4.0,4.0 0 1,0 -8.0,0M480.95,449.67a4.0,4.0 0 1,0 8.0,0a4.0,4.0 0 1,0 -8.0,0M483.69,465.99a4.0,4.0 0 1,0 8.0,0a4.0,4.0 0 1,0 -8.0,0M486.44,513.92a4.0,4.0 0 1,0 8.0,0a4.0,4.0 0 1,0 -8.0,0M489.18,575a4.0,4.0 0 1,0 8.0,0a4.0,4.0 0 1,0 -8.0,0M491.93,515.76a4.0,4.0 0 1,0 8.0,0a4.0,4.0 0 1,0 -8.0,0M494.67,487.59a4.0,4.0 0 1,0 8.0,0a4.0,4.0 0 1,0 -8.0,0M497.42,544.19a4.0,4.0 0 1,0 8.0,0a4.0,4.0 0 1,0 -8.0,0M500.16,478.11a4.0,4.0 0 1,0 8.0,0a4.0,4.0 0 1,0 -8.0,0M502.9,544.98a4.0,4.0 0 1,0 8.0,0a4.0,4.0 0 1,0 -8.0,0M505.65,546.04a4.0,4.0 0 1,0 8.0,0a4.0,4.0 0 1,0 -8.0,0M508.39,498.64a4.0,4.0 0 1,0 8.0,0a4.0,4.0 0 1,0 -8.0,0M511.14,459.68a4.0,4.0 0 1,0 8.0,0a4.0,4.0 0 1,0 -8.0,0M513.88,448.88a4.0,4.0 0 1,0 8.0,0a4.0,4.0 0 1,0 -8.0,0M516.63,437.82a4.0,4.0 0 1,0 8.0,0a4.0,4.0 0 1,0 -8.0,0M519.38,556.83a4.0,4.0 0 1,0 8.0,0a4.0,4.0 0 1,0 -8.0,0M522.12,510.49a4.0,4.0 0 1,0 8.0,0a4.0,4.0 0 1,0 -8.0,0M524.87,560.78a4.0,4.0 0 1,0 8.0,0a4.0,4.0 0 1,0 -8.0,0M527.61,477.84a4.0,4.0 0 1,0 8.0,0a4.0,4.0 0 1,0 -8.0,0M530.36,519.44a4.0,4.0 0 1,0 8.0,0a4.0,4.0 0 1,0 -8.0,0M533.1,551.04a4.0,4.0 0 1,0 8.0,0a4.0,4.0 0 1,0 -8.0,0M535.85,357.78a4.0,4.0 0 1,0 8.0,0a4.0,4.0 0 1,0 -8.0,0M538.59,567.89a4.0,4.0 0 1,0 8.0,0a4.0,4.0 0 1,0 -8.0,0M541.34,556.83a4.0,4.0 0 1,0 8.0,0a4.0,4.0 0 1,0 -8.0,0M544.08,490.74a4.0,4.0 0 1,0 8.0,0a4.0,4.0 0 1,0 -8.0,0M546.83,419.13a4.0,4.0 0 1,0 8.0,0a4.0,4.0 0 1,0 -8.0,0M549.57,569.73a4.0,4.0 0 1,0 8.0,0a4.0,4.0 0 1,0 -8.0,0M552.32,542.09a4.0,4.0 0 1,0 8.0,0a4.0,4.0 0 1,0 -8.0,0M555.06,520.23a4.0,4.0 0 1,0 8.0,0a4.0,4.0 0 1,0 -8.0,0M557.81,451.78a4.0,4.0 0 1,0 8.0,0a4.0,4.0 0 1,0 -8.0,0M560.55,509.44a4.0,4.0 0 1,0 8.0,0a4.0,4.0 0 1,0 -8.0,0M563.3,480.74a4.0,4.0 0 1,0 8.0,0a4.0,4.0 0 1,0 -8.0,0M566.04,539.19a4.0,4.0 0 1,0 8.0,0a4.0,4.0 0 1,0 -8.0,0M568.78,383.58a4.0,4.0 0 1,0 8.0,0a4.0,4.0 0 1,0 -8.0,0M571.53,439.93a4.0,4.0 0 1,0 8.0,0a4.0,4.0 0 1,0 -8.0,0M574.27,566.84a4.0,4.0 0 1,0 8.0,0a4.0,4.0 0 1,0 -8.0,0M577.02,535.24a4.0,4.0 0 1,0 8.0,0a4.0,4.0 0 1,0 -8.0,0M579.76,467.31a4.0,4.0 0 1,0 8.0,0a4.0,4.0 0 1,0 -8.0,0M582.51,566.84a4.0,4.0 0 1,0 8.0,0a4.0,4.0 0 1,0 -8.0,0M585.25,452.57a4.0,4.0 0 1,0 8.0,0a4.0,4.0 0 1,0 -8.0,0M588,551.04a4.0,4.0 0 1,0 8.0,0a4.0,4.0 0 1,0 -8.0,0M590.75,541.04a4.0,4.0 0 1,0 8.0,0a4.0,4.0 0 1,0 -8.0,0M593.49,432.82a4.0,4.0 0 1,0 8.0,0a4.0,4.0 0 1,0 -8.0,0M596.24,536.03a4.0,4.0 0 1,0 8.0,0a4.0,4.0 0 1,0 -8.0,0M598.98,436.77a4.0,4.0 0 1,0 8.0,0a4.0,4.0 0 1,0 -8.0,0M601.73,528.13a4.0,4.0 0 1,0 8.0,0a4.0,4.0 0 1,0 -8.0,0M604.47,496.54a4.0,4.0 0 1,0 8.0,0a4.0,4.0 0 1,0 -8.0,0M607.22,444.67a4.0,4.0 0 1,0 8.0,0a4.0,4.0 0 1,0 -8.0,0M609.96,543.93a4.0,4.0 0 1,0 8.0,0a4.0,4.0 0 1,0 -8.0,0M612.71,502.59a4.0,4.0 0 1,0 8.0,0a4.0,4.0 0 1,0 -8.0,0M615.45,507.33a4.0,4.0 0 1,0 8.0,0a4.0,4.0 0 1,0 -8.0,0M618.2,428.08a4.0,4.0 0 1,0 8.0,0a4.0,4.0 0 1,0 -8.0,0M620.94,544.98a4.0,4.0 0 1,0 8.0,0a4.0,4.0 0 1,0 -8.0,0M623.68,491.53a4.0,4.0 0 1,0 8.0,0a4.0,4.0 0 1,0 -8.0,0M626.43,535.24a4.0,4.0 0 1,0 8.0,0a4.0,4.0 0 1,0 -8.0,0M629.17,482.85a4.0,4.0 0 1,0 8.0,0a4.0,4.0 0 1,0 -8.0,0M631.92,539.19a4.0,4.0 0 1,0 8.0,0a4.0,4.0 0 1,0 -8.0,0M634.66,507.33a4.0,4.0 0 1,0 8.0,0a4.0,4.0 0 1,0 -8.0,0M637.41,571.84a4.0,4.0 0 1,0 8.0,0a4.0,4.0 0 1,0 -8.0,0M640.15,554.99a4.0,4.0 0 1,0 8.0,0a4.0,4.0 0 1,0 -8.0,0M642.9,571.84a4.0,4.0 0 1,0 8.0,0a4.0,4.0 0 1,0 -8.0,0M645.64,551.83a4.0,4.0 0 1,0 8.0,0a4.0,4.0 0 1,0 -8.0,0M648.39,533.14a4.0,4.0 0 1,0 8.0,0a4.0,4.0 0 1,0 -8.0,0M651.13,504.44a4.0,4.0 0 1,0 8.0,0a4.0,4.0 0 1,0 -8.0,0M653.88,505.49a4.0,4.0 0 1,0 8.0,0a4.0,4.0 0 1,0 -8.0,0M656.62,539.19a4.0,4.0 0 1,0 8.0,0a4.0,4.0 0 1,0 -8.0,0M659.37,516.28a4.0,4.0 0 1,0 8.0,0a4.0,4.0 0 1,0 -8.0,0M662.12,563.68a4.0,4.0 0 1,0 8.0,0a4.0,4.0 0 1,0 -8.0,0M664.86,558.94a4.0,4.0 0 1,0 8.0,0a4.0,4.0 0 1,0 -8.0,0M667.61,534.19a4.0,4.0 0 1,0 8.0,0a4.0,4.0 0 1,0 -8.0,0M670.35,496.54a4.0,4.0 0 1,0 8.0,0a4.0,4.0 0 1,0 -8.0,0M673.1,487.59a4.0,4.0 0 1,0 8.0,0a4.0,4.0 0 1,0 -8.0,0M675.84,467.84a4.0,4.0 0 1,0 8.0,0a4.0,4.0 0 1,0 -8.0,0M678.59,433.87a4.0,4.0 0 1,0 8.0,0a4.0,4.0 0 1,0 -8.0,0M681.33,495.48a4.0,4.0 0 1,0 8.0,0a4.0,4.0 0 1,0 -8.0,0M684.08,513.39a4.0,4.0 0 1,0 8.0,0a4.0,4.0 0 1,0 -8.0,0M686.82,510.49a4.0,4.0 0 1,0 8.0,0a4.0,4.0 0 1,0 -8.0,0M689.57,513.39a4.0,4.0 0 1,0 8.0,0a4.0,4.0 0 1,0 -8.0,0" fill="#0000ff"/>
<polyline points="97.9,412.02 100.65,417.02 103.39,534.19 106.14,492.69 108.88,525.24 111.62,447.83 114.37,551.79 117.12,500.71 119.86,460.71 122.61,551.84 125.35,537.09 128.09,493.64 130.84,504.6 133.59,556.35 136.33,459.55 139.08,558.12 141.82,484.34 144.56,551.82 147.31,397.8 150.06,562.05 152.8,567.37 155.55,558.64 158.29,535.24 161.04,426.24 163.78,570.25 166.53,553.06 169.27,567.19 172.02,468.63 174.76,506.35 177.5,541.73 180.25,495.27 183,468.63 185.74,488.28 188.49,511.99 191.23,422.02 193.98,554.86 196.72,522.01 199.47,508.76 202.21,552.73 204.96,350.93 207.7,504.68 210.44,530.67 213.19,547.97 215.94,456.78 218.68,545.18 221.43,517.35 224.17,466.84 226.92,442.62 229.66,549.82 232.41,496.27 235.15,436.9 237.9,552.49 240.64,508.84 243.39,548.92 246.13,523.22 248.88,570 251.62,478.45 254.37,566.78 257.11,411.23 259.86,560.28 262.6,553.06 265.35,540.39 268.09,580.53 270.84,511.02 273.58,434.93 276.33,521.29 279.07,434.93 281.82,483.11 284.56,558.94 287.31,456.52 290.05,396.22 292.8,424.92 295.54,527.43 298.29,519.3 301.03,509.11 303.77,474.93 306.52,534.2 309.26,493.1 312.01,422.02 314.75,440.72 317.5,537.71 320.25,567.61 322.99,491.38 325.74,560.78 328.48,472.8 331.23,491.52 333.97,441.77 336.72,514.16 339.46,482.21 342.21,533.14 344.95,445.48 347.7,479.8 350.44,517.61 353.19,446.75 355.93,473.74 358.68,488 361.42,417.52 364.16,515.89 366.91,496.73 369.65,490.72 372.4,578.69 375.14,445.72 377.89,562.8 380.63,495.42 383.38,580.53 386.12,580.53 388.87,412.02 391.62,480.02 394.36,473.93 397.11,476.7 399.85,563.42 402.6,444.79 405.34,434.81 408.09,490.01 410.83,437.82 413.58,535.24 416.32,478.6 419.07,557.17 421.81,494.68 424.56,556.83 427.3,463.62 430.05,548.93 432.79,487.58 435.53,515.81 438.28,563.88 441.02,515.37 443.77,438.79 446.51,383.37 449.26,464.63 452,577.9 454.75,490.1 457.5,558.69 460.24,455.33 462.99,388.32 465.73,471.26 468.48,463.3 471.22,461.37 473.97,519.84 476.71,438.33 479.46,554.09 482.2,500.53 484.95,444.67 487.69,464.77 490.44,505.49 493.18,574.24 495.93,533.93 498.67,486.61 501.42,544.14 504.16,467.31 506.9,544.79 509.65,546.27 512.39,500.05 515.14,463.36 517.88,447.71 520.63,443.88 523.38,556.61 526.12,511.44 528.87,560.77 531.61,487.06 534.36,519.49 537.1,551.49 539.85,360.67 542.59,568.38 545.34,556.71 548.08,480.48 550.83,418.74 553.57,569.38 556.32,533.14 559.06,520.37 561.81,445.72 564.55,510.93 567.3,481.59 570.04,533.14 572.78,384.6 575.53,439.66 578.27,572.63 581.02,534.1 583.76,466.37 586.51,565.9 589.25,459.41 592,550.04 594.75,541.81 597.49,445.72 600.24,534.95 602.98,462.05 605.73,527.59 608.47,497.85 611.22,434.93 613.96,545.46 616.71,504.13 619.45,506.53 622.2,422.02 624.94,545.78 627.68,492.77 630.43,534.85 633.17,492.59 635.92,539.68 638.66,508.69 641.41,578.69 644.15,556.07 646.9,571.75 649.64,552.88 652.39,533.85 655.13,496.54 657.88,504.82 660.62,539.34 663.37,535.24 666.12,578.69 668.86,559.5 671.61,534.27 674.35,498.04 677.1,487.94 679.84,468.09 682.59,447.3 685.33,496.47 688.08,514.62 690.82,509.23 693.57,513.36" fill="none" stroke="#ffa500" stroke-width="1.9" stroke-linejoin="round"/>
<path d="M94.75,408.87l6.3,6.3M94.75,415.17l6.3,-6.3M97.5,413.87l6.3,6.3M97.5,420.17l6.3,-6.3M100.24,531.04l6.3,6.3M100.24,537.34l6.3,-6.3M102.98,489.54l6.3,6.3M102.98,495.84l6.3,-6.3M105.73,522.09l6.3,6.3M105.73,528.39l6.3,-6.3M108.47,444.68l6.3,6.3M108.47,450.98l6.3,-6.3M111.22,548.64l6.3,6.3M111.22,554.94l6.3,-6.3M113.97,497.56l6.3,6.3M113.97,503.86l6.3,-6.3M116.71,457.56l6.3,6.3M116.71,463.86l6.3,-6.3M119.45,548.69l6.3,6.3M119.45,554.99l6.3,-6.3M122.2,533.94l6.3,6.3M122.2,540.24l6.3,-6.3M124.94,490.49l6.3,6.3M124.94,496.79l6.3,-6.3M127.69,501.45l6.3,6.3M127.69,507.75l6.3,-6.3M130.44,553.2l6.3,6.3M130.44,559.5l6.3,-6.3M133.18,456.4l6.3,6.3M133.18,462.7l6.3,-6.3M135.93,554.97l6.3,6.3M135.93,561.27l6.3,-6.3M138.67,481.19l6.3,6.3M138.67,487.49l6.3,-6.3M141.41,548.67l6.3,6.3M141.41,554.97l6.3,-6.3M144.16,394.65l6.3,6.3M144.16,400.95l6.3,-6.3M146.91,558.9l6.3,6.3M146.91,565.2l6.3,-6.3M149.65,564.22l6.3,6.3M149.65,570.51l6.3,-6.3M152.4,555.49l6.3,6.3M152.4,561.79l6.3,-6.3M155.14,532.09l6.3,6.3M155.14,538.39l6.3,-6.3M157.89,423.09l6.3,6.3M157.89,429.39l6.3,-6.3M160.63,567.1l6.3,6.3M160.63,573.4l6.3,-6.3M163.38,549.91l6.3,6.3M163.38,556.21l6.3,-6.3M166.12,564.04l6.3,6.3M166.12,570.34l6.3,-6.3M168.87,465.48l6.3,6.3M168.87,471.78l6.3,-6.3M171.61,503.2l6.3,6.3M171.61,509.5l6.3,-6.3M174.35,538.58l6.3,6.3M174.35,544.88l6.3,-6.3M177.1,492.12l6.3,6.3M177.1,498.42l6.3,-6.3M179.84,465.48l6.3,6.3M179.84,471.78l6.3,-6.3M182.59,485.13l6.3,6.3M182.59,491.43l6.3,-6.3M185.34,508.84l6.3,6.3M185.34,515.14l6.3,-6.3M188.08,418.87l6.3,6.3M188.08,425.17l6.3,-6.3M190.83,551.71l6.3,6.3M190.83,558.01l6.3,-6.3M193.57,518.86l6.3,6.3M193.57,525.16l6.3,-6.3M196.31,505.61l6.3,6.3M196.31,511.91l6.3,-6.3M199.06,549.58l6.3,6.3M199.06,555.88l6.3,-6.3M201.81,347.78l6.3,6.3M201.81,354.08l6.3,-6.3M204.55,501.53l6.3,6.3M204.55,507.83l6.3,-6.3M207.29,527.52l6.3,6.3M207.29,533.82l6.3,-6.3M210.04,544.82l6.3,6.3M210.04,551.12l6.3,-6.3M212.78,453.63l6.3,6.3M212.78,459.93l6.3,-6.3M215.53,542.03l6.3,6.3M215.53,548.33l6.3,-6.3M218.28,514.2l6.3,6.3M218.28,520.5l6.3,-6.3M221.02,463.69l6.3,6.3M221.02,469.99l6.3,-6.3M223.77,439.47l6.3,6.3M223.77,445.77l6.3,-6.3M226.51,546.67l6.3,6.3M226.51,552.97l6.3,-6.3M229.25,493.12l6.3,6.3M229.25,499.42l6.3,-6.3M232,433.75l6.3,6.3M232,440.05l6.3,-6.3M234.75,549.34l6.3,6.3M234.75,555.64l6.3,-6.3M237.49,505.69l6.3,6.3M237.49,511.99l6.3,-6.3M240.24,545.77l6.3,6.3M240.24,552.07l6.3,-6.3M242.98,520.07l6.3,6.3M242.98,526.37l6.3,-6.3M245.72,566.85l6.3,6.3M245.72,573.15l6.3,-6.3M248.47,475.3l6.3,6.3M248.47,481.6l6.3,-6.3M251.22,563.63l6.3,6.3M251.22,569.93l6.3,-6.3M253.96,408.08l6.3,6.3M253.96,414.38l6.3,-6.3M256.71,557.13l6.3,6.3M256.71,563.43l6.3,-6.3M259.45,549.91l6.3,6.3M259.45,556.21l6.3,-6.3M262.2,537.24l6.3,6.3M262.2,543.54l6.3,-6.3M264.94,577.38l6.3,6.3M264.94,583.68l6.3,-6.3M267.69,507.87l6.3,6.3M267.69,514.17l6.3,-6.3M270.43,431.78l6.3,6.3M270.43,438.08l6.3,-6.3M273.18,518.14l6.3,6.3M273.18,524.44l6.3,-6.3M275.92,431.78l6.3,6.3M275.92,438.08l6.3,-6.3M278.67,479.96l6.3,6.3M278.67,486.26l6.3,-6.3M281.41,555.79l6.3,6.3M281.41,562.09l6.3,-6.3M284.16,453.37l6.3,6.3M284.16,459.67l6.3,-6.3M286.9,393.07l6.3,6.3M286.9,399.37l6.3,-6.3M289.65,421.77l6.3,6.3M289.65,428.07l6.3,-6.3M292.39,524.28l6.3,6.3M292.39,530.58l6.3,-6.3M295.14,516.15l6.3,6.3M295.14,522.45l6.3,-6.3M297.88,505.96l6.3,6.3M297.88,512.26l6.3,-6.3M300.62,471.78l6.3,6.3M300.62,478.08l6.3,-6.3M303.37,531.05l6.3,6.3M303.37,537.35l6.3,-6.3M306.12,489.95l6.3,6.3M306.12,496.25l6.3,-6.3M308.86,418.87l6.3,6.3M308.86,425.17l6.3,-6.3M311.61,437.57l6.3,6.3M311.61,443.87l6.3,-6.3M314.35,534.56l6.3,6.3M314.35,540.86l6.3,-6.3M317.1,564.46l6.3,6.3M317.1,570.76l6.3,-6.3M319.84,488.23l6.3,6.3M319.84,494.53l6.3,-6.3M322.59,557.63l6.3,6.3M322.59,563.93l6.3,-6.3M325.33,469.65l6.3,6.3M325.33,475.95l6.3,-6.3M328.08,488.37l6.3,6.3M328.08,494.67l6.3,-6.3M330.82,438.62l6.3,6.3M330.82,444.92l6.3,-6.3M333.57,511.01l6.3,6.3M333.57,517.31l6.3,-6.3M336.31,479.06l6.3,6.3M336.31,485.36l6.3,-6.3M339.06,529.99l6.3,6.3M339.06,536.29l6.3,-6.3M341.8,442.33l6.3,6.3M341.8,448.63l6.3,-6.3M344.55,476.65l6.3,6.3M344.55,482.95l6.3,-6.3M347.29,514.46l6.3,6.3M347.29,520.76l6.3,-6.3M350.04,443.6l6.3,6.3M350.04,449.9l6.3,-6.3M352.78,470.59l6.3,6.3M352.78,476.89l6.3,-6.3M355.53,484.85l6.3,6.3M355.53,491.15l6.3,-6.3M358.27,414.37l6.3,6.3M358.27,420.67l6.3,-6.3M361.01,512.74l6.3,6.3M361.01,519.04l6.3,-6.3M363.76,493.58l6.3,6.3M363.76,499.88l6.3,-6.3M366.5,487.57l6.3,6.3M366.5,493.87l6.3,-6.3M369.25,575.54l6.3,6.3M369.25,581.84l6.3,-6.3M372,442.57l6.3,6.3M372,448.87l6.3,-6.3M374.74,559.65l6.3,6.3M374.74,565.95l6.3,-6.3M377.49,492.27l6.3,6.3M377.49,498.57l6.3,-6.3M380.23,577.38l6.3,6.3M380.23,583.68l6.3,-6.3M382.98,577.38l6.3,6.3M382.98,583.68l6.3,-6.3M385.72,408.87l6.3,6.3M385.72,415.17l6.3,-6.3M388.47,476.87l6.3,6.3M388.47,483.17l6.3,-6.3M391.21,470.78l6.3,6.3M391.21,477.08l6.3,-6.3M393.96,473.55l6.3,6.3M393.96,479.85l6.3,-6.3M396.7,560.27l6.3,6.3M396.7,566.57l6.3,-6.3M399.45,441.64l6.3,6.3M399.45,447.94l6.3,-6.3M402.19,431.66l6.3,6.3M402.19,437.96l6.3,-6.3M404.94,486.86l6.3,6.3M404.94,493.16l6.3,-6.3M407.68,434.67l6.3,6.3M407.68,440.97l6.3,-6.3M410.43,532.09l6.3,6.3M410.43,538.39l6.3,-6.3M413.17,475.45l6.3,6.3M413.17,481.75l6.3,-6.3M415.92,554.02l6.3,6.3M415.92,560.32l6.3,-6.3M418.66,491.53l6.3,6.3M418.66,497.83l6.3,-6.3M421.41,553.68l6.3,6.3M421.41,559.98l6.3,-6.3M424.15,460.47l6.3,6.3M424.15,466.77l6.3,-6.3M426.9,545.78l6.3,6.3M426.9,552.08l6.3,-6.3M429.64,484.43l6.3,6.3M429.64,490.73l6.3,-6.3M432.38,512.66l6.3,6.3M432.38,518.96l6.3,-6.3M435.13,560.73l6.3,6.3M435.13,567.03l6.3,-6.3M437.88,512.22l6.3,6.3M437.88,518.52l6.3,-6.3M440.62,435.64l6.3,6.3M440.62,441.94l6.3,-6.3M443.37,380.22l6.3,6.3M443.37,386.52l6.3,-6.3M446.11,461.48l6.3,6.3M446.11,467.78l6.3,-6.3M448.86,574.75l6.3,6.3M448.86,581.05l6.3,-6.3M451.6,486.95l6.3,6.3M451.6,493.25l6.3,-6.3M454.35,555.54l6.3,6.3M454.35,561.84l6.3,-6.3M457.09,452.18l6.3,6.3M457.09,458.48l6.3,-6.3M459.84,385.17l6.3,6.3M459.84,391.47l6.3,-6.3M462.58,468.11l6.3,6.3M462.58,474.41l6.3,-6.3M465.33,460.15l6.3,6.3M465.33,466.45l6.3,-6.3M468.07,458.22l6.3,6.3M468.07,464.52l6.3,-6.3M470.82,516.69l6.3,6.3M470.82,522.99l6.3,-6.3M473.56,435.18l6.3,6.3M473.56,441.48l6.3,-6.3M476.31,550.94l6.3,6.3M476.31,557.24l6.3,-6.3M479.05,497.38l6.3,6.3M479.05,503.68l6.3,-6.3M481.8,441.52l6.3,6.3M481.8,447.82l6.3,-6.3M484.54,461.62l6.3,6.3M484.54,467.92l6.3,-6.3M487.29,502.34l6.3,6.3M487.29,508.64l6.3,-6.3M490.03,571.09l6.3,6.3M490.03,577.39l6.3,-6.3M492.78,530.78l6.3,6.3M492.78,537.08l6.3,-6.3M495.52,483.46l6.3,6.3M495.52,489.76l6.3,-6.3M498.27,540.99l6.3,6.3M498.27,547.29l6.3,-6.3M501.01,464.16l6.3,6.3M501.01,470.46l6.3,-6.3M503.75,541.64l6.3,6.3M503.75,547.94l6.3,-6.3M506.5,543.12l6.3,6.3M506.5,549.42l6.3,-6.3M509.25,496.9l6.3,6.3M509.25,503.2l6.3,-6.3M511.99,460.21l6.3,6.3M511.99,466.51l6.3,-6.3M514.74,444.56l6.3,6.3M514.74,450.86l6.3,-6.3M517.48,440.73l6.3,6.3M517.48,447.03l6.3,-6.3M520.23,553.46l6.3,6.3M520.23,559.76l6.3,-6.3M522.97,508.29l6.3,6.3M522.97,514.59l6.3,-6.3M525.72,557.62l6.3,6.3M525.72,563.92l6.3,-6.3M528.46,483.91l6.3,6.3M528.46,490.21l6.3,-6.3M531.21,516.34l6.3,6.3M531.21,522.64l6.3,-6.3M533.95,548.34l6.3,6.3M533.95,554.64l6.3,-6.3M536.7,357.52l6.3,6.3M536.7,363.82l6.3,-6.3M539.44,565.23l6.3,6.3M539.44,571.53l6.3,-6.3M542.19,553.56l6.3,6.3M542.19,559.86l6.3,-6.3M544.93,477.33l6.3,6.3M544.93,483.63l6.3,-6.3M547.68,415.59l6.3,6.3M547.68,421.89l6.3,-6.3M550.42,566.23l6.3,6.3M550.42,572.53l6.3,-6.3M553.17,529.99l6.3,6.3M553.17,536.29l6.3,-6.3M555.91,517.22l6.3,6.3M555.91,523.52l6.3,-6.3M558.66,442.57l6.3,6.3M558.66,448.87l6.3,-6.3M561.4,507.78l6.3,6.3M561.4,514.08l6.3,-6.3M564.15,478.44l6.3,6.3M564.15,484.74l6.3,-6.3M566.89,529.99l6.3,6.3M566.89,536.29l6.3,-6.3M569.63,381.45l6.3,6.3M569.63,387.75l6.3,-6.3M572.38,436.51l6.3,6.3M572.38,442.81l6.3,-6.3M575.12,569.48l6.3,6.3M575.12,575.78l6.3,-6.3M577.87,530.95l6.3,6.3M577.87,537.25l6.3,-6.3M580.62,463.22l6.3,6.3M580.62,469.52l6.3,-6.3M583.36,562.75l6.3,6.3M583.36,569.05l6.3,-6.3M586.11,456.26l6.3,6.3M586.11,462.56l6.3,-6.3M588.85,546.89l6.3,6.3M588.85,553.19l6.3,-6.3M591.6,538.66l6.3,6.3M591.6,544.96l6.3,-6.3M594.34,442.57l6.3,6.3M594.34,448.87l6.3,-6.3M597.09,531.8l6.3,6.3M597.09,538.1l6.3,-6.3M599.83,458.9l6.3,6.3M599.83,465.2l6.3,-6.3M602.58,524.44l6.3,6.3M602.58,530.74l6.3,-6.3M605.32,494.7l6.3,6.3M605.32,501l6.3,-6.3M608.07,431.78l6.3,6.3M608.07,438.08l6.3,-6.3M610.81,542.31l6.3,6.3M610.81,548.61l6.3,-6.3M613.56,500.98l6.3,6.3M613.56,507.28l6.3,-6.3M616.3,503.38l6.3,6.3M616.3,509.68l6.3,-6.3M619.05,418.87l6.3,6.3M619.05,425.17l6.3,-6.3M621.79,542.63l6.3,6.3M621.79,548.93l6.3,-6.3M624.53,489.62l6.3,6.3M624.53,495.92l6.3,-6.3M627.28,531.7l6.3,6.3M627.28,538l6.3,-6.3M630.02,489.44l6.3,6.3M630.02,495.74l6.3,-6.3M632.77,536.53l6.3,6.3M632.77,542.83l6.3,-6.3M635.51,505.54l6.3,6.3M635.51,511.84l6.3,-6.3M638.26,575.54l6.3,6.3M638.26,581.84l6.3,-6.3M641,552.92l6.3,6.3M641,559.22l6.3,-6.3M643.75,568.6l6.3,6.3M643.75,574.9l6.3,-6.3M646.5,549.73l6.3,6.3M646.5,556.03l6.3,-6.3M649.24,530.7l6.3,6.3M649.24,537l6.3,-6.3M651.99,493.39l6.3,6.3M651.99,499.69l6.3,-6.3M654.73,501.67l6.3,6.3M654.73,507.97l6.3,-6.3M657.48,536.19l6.3,6.3M657.48,542.49l6.3,-6.3M660.22,532.09l6.3,6.3M660.22,538.39l6.3,-6.3M662.97,575.54l6.3,6.3M662.97,581.84l6.3,-6.3M665.71,556.35l6.3,6.3M665.71,562.65l6.3,-6.3M668.46,531.12l6.3,6.3M668.46,537.42l6.3,-6.3M671.2,494.89l6.3,6.3M671.2,501.19l6.3,-6.3M673.95,484.79l6.3,6.3M673.95,491.09l6.3,-6.3M676.69,464.94l6.3,6.3M676.69,471.24l6.3,-6.3M679.44,444.15l6.3,6.3M679.44,450.45l6.3,-6.3M682.18,493.32l6.3,6.3M682.18,499.62l6.3,-6.3M684.93,511.47l6.3,6.3M684.93,517.77l6.3,-6.3M687.67,506.08l6.3,6.3M687.67,512.38l6.3,-6.3M690.42,510.21l6.3,6.3M690.42,516.51l6.3,-6.3" fill="none" stroke="#ffa500" stroke-width="1.25"/>
</g>
<rect x="67.6" y="332.4" width="655.7" height="260.8" fill="none" stroke="#1e1e1e" stroke-width="1.1"/>
<line x1="97.9" y1="593.2" x2="97.9" y2="597.7" stroke="#1e1e1e" stroke-width="1.05"/>
<text x="97.9" y="612.9" text-anchor="middle" font-size="15.3" textLength="9.3" lengthAdjust="spacingAndGlyphs">0</text>
<line x1="235.15" y1="593.2" x2="235.15" y2="597.7" stroke="#1e1e1e" stroke-width="1.05"/>
<text x="235.15" y="612.9" text-anchor="middle" font-size="15.3" textLength="17.6" lengthAdjust="spacingAndGlyphs">50</text>
<line x1="372.4" y1="593.2" x2="372.4" y2="597.7" stroke="#1e1e1e" stroke-width="1.05"/>
<text x="372.4" y="612.9" text-anchor="middle" font-size="15.3" textLength="25.9" lengthAdjust="spacingAndGlyphs">100</text>
<line x1="509.65" y1="593.2" x2="509.65" y2="597.7" stroke="#1e1e1e" stroke-width="1.05"/>
<text x="509.65" y="612.9" text-anchor="middle" font-size="15.3" textLength="25.9" lengthAdjust="spacingAndGlyphs">150</text>
<line x1="646.9" y1="593.2" x2="646.9" y2="597.7" stroke="#1e1e1e" stroke-width="1.05"/>
<text x="646.9" y="612.9" text-anchor="middle" font-size="15.3" textLength="25.9" lengthAdjust="spacingAndGlyphs">200</text>
<line x1="63.1" y1="554.2" x2="67.6" y2="554.2" stroke="#1e1e1e" stroke-width="1.05"/>
<text x="58.1" y="559.6" text-anchor="end" font-size="15.3" textLength="25.9" lengthAdjust="spacingAndGlyphs">200</text>
<line x1="63.1" y1="501.54" x2="67.6" y2="501.54" stroke="#1e1e1e" stroke-width="1.05"/>
<text x="58.1" y="506.94" text-anchor="end" font-size="15.3" textLength="25.9" lengthAdjust="spacingAndGlyphs">400</text>
<line x1="63.1" y1="448.88" x2="67.6" y2="448.88" stroke="#1e1e1e" stroke-width="1.05"/>
<text x="58.1" y="454.28" text-anchor="end" font-size="15.3" textLength="25.9" lengthAdjust="spacingAndGlyphs">600</text>
<line x1="63.1" y1="396.22" x2="67.6" y2="396.22" stroke="#1e1e1e" stroke-width="1.05"/>
<text x="58.1" y="401.62" text-anchor="end" font-size="15.3" textLength="25.9" lengthAdjust="spacingAndGlyphs">800</text>
<line x1="63.1" y1="343.56" x2="67.6" y2="343.56" stroke="#1e1e1e" stroke-width="1.05"/>
<text x="58.1" y="348.96" text-anchor="end" font-size="15.3" textLength="34.2" lengthAdjust="spacingAndGlyphs">1000</text>
<text x="394.9" y="633.2" text-anchor="middle" font-size="16.4" textLength="61" lengthAdjust="spacingAndGlyphs">Sample</text>
<text transform="translate(13.9,464.2) rotate(-90)" text-anchor="middle" font-size="16.4" textLength="82.5" lengthAdjust="spacingAndGlyphs">Power (W)</text>
<text x="372.5" y="651.0" font-size="19.4" textLength="19.2" lengthAdjust="spacingAndGlyphs">b)</text>
<rect x="616.7" y="338.6" width="100.0" height="38.6" rx="2.5" fill="#fff" fill-opacity="0.8" stroke="#d6d6d6" stroke-width="1"/>
<line x1="620.8" y1="347.6" x2="645.6" y2="347.6" stroke="#0000ff" stroke-width="1.9"/>
<circle cx="633.2" cy="347.6" r="4.0" fill="#0000ff"/>
<line x1="620.8" y1="365" x2="645.6" y2="365" stroke="#ffa500" stroke-width="1.9"/>
<path d="M630.0500000000001,361.85l6.3,6.3M630.0500000000001,368.15l6.3,-6.3" stroke="#ffa500" stroke-width="1.25"/>
<text x="654.5" y="352.45" font-size="13.2" textLength="23.9" lengthAdjust="spacingAndGlyphs">Real</text>
<text x="654.5" y="369.85" font-size="13.2" textLength="57.2" lengthAdjust="spacingAndGlyphs">Prediction</text>
</svg></body></html>
